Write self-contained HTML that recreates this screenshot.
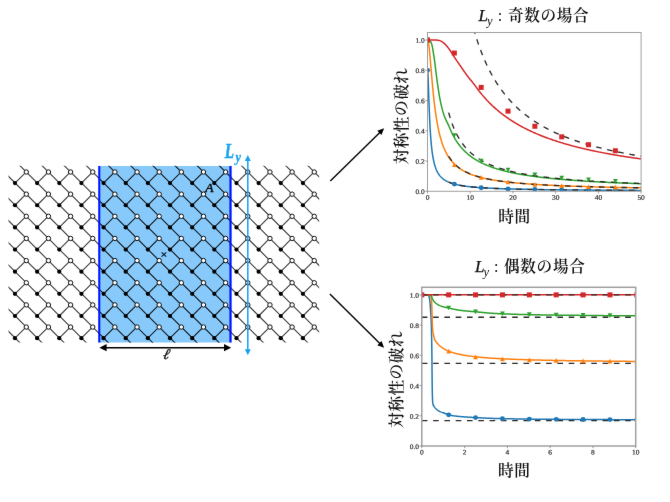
<!DOCTYPE html>
<html lang="ja">
<head>
<meta charset="utf-8">
<title>Ly : 奇数の場合 / 偶数の場合</title>
<style>
html,body{margin:0;padding:0;background:#fff;}
body{width:670px;height:502px;overflow:hidden;}
svg{display:block;}
</style>
</head>
<body>
<svg width="670" height="502" viewBox="0 0 670 502">
<defs><filter id="soft" x="0" y="0" width="670" height="502" filterUnits="userSpaceOnUse" color-interpolation-filters="sRGB"><feConvolveMatrix order="3" kernelMatrix="0.0028 0.0470 0.0028 0.0470 0.8008 0.0470 0.0028 0.0470 0.0028" divisor="1" edgeMode="duplicate" preserveAlpha="false"/></filter></defs>
<g filter="url(#soft)">
<rect width="670" height="502" fill="#fff"/>
<rect x="98.2" y="166.0" width="133.40" height="176.50" fill="#86c9fa"/>
<clipPath id="lc"><rect x="8.5" y="165.7" width="310.7" height="176.90000000000003"/></clipPath>
<clipPath id="lb"><rect x="98.2" y="166.0" width="133.40" height="176.50"/></clipPath>
<g clip-path="url(#lc)"><path d="M0 -208.70L340 131.30M0 -186.55L340 153.45M0 -164.40L340 175.60M0 -142.25L340 197.75M0 -120.10L340 219.90M0 -97.95L340 242.05M0 -75.80L340 264.20M0 -53.65L340 286.35M0 -31.50L340 308.50M0 -9.35L340 330.65M0 12.80L340 352.80M0 34.95L340 374.95M0 57.10L340 397.10M0 79.25L340 419.25M0 101.40L340 441.40M0 123.55L340 463.55M0 145.70L340 485.70M0 167.85L340 507.85M0 190.00L340 530.00M0 212.15L340 552.15M0 234.30L340 574.30M0 256.45L340 596.45M0 278.60L340 618.60M0 300.75L340 640.75M0 322.90L340 662.90M0 345.05L340 685.05M0 367.20L340 707.20M14.95 183.10l11.07 -11.07M14.95 205.25l11.07 -11.07M14.95 227.40l11.07 -11.07M14.95 249.55l11.07 -11.07M14.95 271.70l11.07 -11.07M14.95 293.85l11.07 -11.07M14.95 316.00l11.07 -11.07M14.95 338.15l11.07 -11.07M37.10 183.10l11.07 -11.07M37.10 205.25l11.07 -11.07M37.10 227.40l11.07 -11.07M37.10 249.55l11.07 -11.07M37.10 271.70l11.07 -11.07M37.10 293.85l11.07 -11.07M37.10 316.00l11.07 -11.07M37.10 338.15l11.07 -11.07M59.25 183.10l11.07 -11.07M59.25 205.25l11.07 -11.07M59.25 227.40l11.07 -11.07M59.25 249.55l11.07 -11.07M59.25 271.70l11.07 -11.07M59.25 293.85l11.07 -11.07M59.25 316.00l11.07 -11.07M59.25 338.15l11.07 -11.07M81.40 183.10l11.07 -11.07M81.40 205.25l11.07 -11.07M81.40 227.40l11.07 -11.07M81.40 249.55l11.07 -11.07M81.40 271.70l11.07 -11.07M81.40 293.85l11.07 -11.07M81.40 316.00l11.07 -11.07M81.40 338.15l11.07 -11.07M103.55 183.10l11.07 -11.07M103.55 205.25l11.07 -11.07M103.55 227.40l11.07 -11.07M103.55 249.55l11.07 -11.07M103.55 271.70l11.07 -11.07M103.55 293.85l11.07 -11.07M103.55 316.00l11.07 -11.07M103.55 338.15l11.07 -11.07M125.70 183.10l11.07 -11.07M125.70 205.25l11.07 -11.07M125.70 227.40l11.07 -11.07M125.70 249.55l11.07 -11.07M125.70 271.70l11.07 -11.07M125.70 293.85l11.07 -11.07M125.70 316.00l11.07 -11.07M125.70 338.15l11.07 -11.07M147.85 183.10l11.07 -11.07M147.85 205.25l11.07 -11.07M147.85 227.40l11.07 -11.07M147.85 249.55l11.07 -11.07M147.85 271.70l11.07 -11.07M147.85 293.85l11.07 -11.07M147.85 316.00l11.07 -11.07M147.85 338.15l11.07 -11.07M170.00 183.10l11.07 -11.07M170.00 205.25l11.07 -11.07M170.00 227.40l11.07 -11.07M170.00 249.55l11.07 -11.07M170.00 271.70l11.07 -11.07M170.00 293.85l11.07 -11.07M170.00 316.00l11.07 -11.07M170.00 338.15l11.07 -11.07M192.15 183.10l11.07 -11.07M192.15 205.25l11.07 -11.07M192.15 227.40l11.07 -11.07M192.15 249.55l11.07 -11.07M192.15 271.70l11.07 -11.07M192.15 293.85l11.07 -11.07M192.15 316.00l11.07 -11.07M192.15 338.15l11.07 -11.07M214.30 183.10l11.07 -11.07M214.30 205.25l11.07 -11.07M214.30 227.40l11.07 -11.07M214.30 249.55l11.07 -11.07M214.30 271.70l11.07 -11.07M214.30 293.85l11.07 -11.07M214.30 316.00l11.07 -11.07M214.30 338.15l11.07 -11.07M236.45 183.10l11.07 -11.07M236.45 205.25l11.07 -11.07M236.45 227.40l11.07 -11.07M236.45 249.55l11.07 -11.07M236.45 271.70l11.07 -11.07M236.45 293.85l11.07 -11.07M236.45 316.00l11.07 -11.07M236.45 338.15l11.07 -11.07M258.60 183.10l11.07 -11.07M258.60 205.25l11.07 -11.07M258.60 227.40l11.07 -11.07M258.60 249.55l11.07 -11.07M258.60 271.70l11.07 -11.07M258.60 293.85l11.07 -11.07M258.60 316.00l11.07 -11.07M258.60 338.15l11.07 -11.07M280.75 183.10l11.07 -11.07M280.75 205.25l11.07 -11.07M280.75 227.40l11.07 -11.07M280.75 249.55l11.07 -11.07M280.75 271.70l11.07 -11.07M280.75 293.85l11.07 -11.07M280.75 316.00l11.07 -11.07M280.75 338.15l11.07 -11.07M302.90 183.10l11.07 -11.07M302.90 205.25l11.07 -11.07M302.90 227.40l11.07 -11.07M302.90 249.55l11.07 -11.07M302.90 271.70l11.07 -11.07M302.90 293.85l11.07 -11.07M302.90 316.00l11.07 -11.07M302.90 338.15l11.07 -11.07" fill="none" stroke="#3c3c3c" stroke-width="1.1"/></g>
<g clip-path="url(#lb)"><path d="M0 -208.70L340 131.30M0 -186.55L340 153.45M0 -164.40L340 175.60M0 -142.25L340 197.75M0 -120.10L340 219.90M0 -97.95L340 242.05M0 -75.80L340 264.20M0 -53.65L340 286.35M0 -31.50L340 308.50M0 -9.35L340 330.65M0 12.80L340 352.80M0 34.95L340 374.95M0 57.10L340 397.10M0 79.25L340 419.25M0 101.40L340 441.40M0 123.55L340 463.55M0 145.70L340 485.70M0 167.85L340 507.85M0 190.00L340 530.00M0 212.15L340 552.15M0 234.30L340 574.30M0 256.45L340 596.45M0 278.60L340 618.60M0 300.75L340 640.75M0 322.90L340 662.90M0 345.05L340 685.05M0 367.20L340 707.20M14.95 183.10l11.07 -11.07M14.95 205.25l11.07 -11.07M14.95 227.40l11.07 -11.07M14.95 249.55l11.07 -11.07M14.95 271.70l11.07 -11.07M14.95 293.85l11.07 -11.07M14.95 316.00l11.07 -11.07M14.95 338.15l11.07 -11.07M37.10 183.10l11.07 -11.07M37.10 205.25l11.07 -11.07M37.10 227.40l11.07 -11.07M37.10 249.55l11.07 -11.07M37.10 271.70l11.07 -11.07M37.10 293.85l11.07 -11.07M37.10 316.00l11.07 -11.07M37.10 338.15l11.07 -11.07M59.25 183.10l11.07 -11.07M59.25 205.25l11.07 -11.07M59.25 227.40l11.07 -11.07M59.25 249.55l11.07 -11.07M59.25 271.70l11.07 -11.07M59.25 293.85l11.07 -11.07M59.25 316.00l11.07 -11.07M59.25 338.15l11.07 -11.07M81.40 183.10l11.07 -11.07M81.40 205.25l11.07 -11.07M81.40 227.40l11.07 -11.07M81.40 249.55l11.07 -11.07M81.40 271.70l11.07 -11.07M81.40 293.85l11.07 -11.07M81.40 316.00l11.07 -11.07M81.40 338.15l11.07 -11.07M103.55 183.10l11.07 -11.07M103.55 205.25l11.07 -11.07M103.55 227.40l11.07 -11.07M103.55 249.55l11.07 -11.07M103.55 271.70l11.07 -11.07M103.55 293.85l11.07 -11.07M103.55 316.00l11.07 -11.07M103.55 338.15l11.07 -11.07M125.70 183.10l11.07 -11.07M125.70 205.25l11.07 -11.07M125.70 227.40l11.07 -11.07M125.70 249.55l11.07 -11.07M125.70 271.70l11.07 -11.07M125.70 293.85l11.07 -11.07M125.70 316.00l11.07 -11.07M125.70 338.15l11.07 -11.07M147.85 183.10l11.07 -11.07M147.85 205.25l11.07 -11.07M147.85 227.40l11.07 -11.07M147.85 249.55l11.07 -11.07M147.85 271.70l11.07 -11.07M147.85 293.85l11.07 -11.07M147.85 316.00l11.07 -11.07M147.85 338.15l11.07 -11.07M170.00 183.10l11.07 -11.07M170.00 205.25l11.07 -11.07M170.00 227.40l11.07 -11.07M170.00 249.55l11.07 -11.07M170.00 271.70l11.07 -11.07M170.00 293.85l11.07 -11.07M170.00 316.00l11.07 -11.07M170.00 338.15l11.07 -11.07M192.15 183.10l11.07 -11.07M192.15 205.25l11.07 -11.07M192.15 227.40l11.07 -11.07M192.15 249.55l11.07 -11.07M192.15 271.70l11.07 -11.07M192.15 293.85l11.07 -11.07M192.15 316.00l11.07 -11.07M192.15 338.15l11.07 -11.07M214.30 183.10l11.07 -11.07M214.30 205.25l11.07 -11.07M214.30 227.40l11.07 -11.07M214.30 249.55l11.07 -11.07M214.30 271.70l11.07 -11.07M214.30 293.85l11.07 -11.07M214.30 316.00l11.07 -11.07M214.30 338.15l11.07 -11.07M236.45 183.10l11.07 -11.07M236.45 205.25l11.07 -11.07M236.45 227.40l11.07 -11.07M236.45 249.55l11.07 -11.07M236.45 271.70l11.07 -11.07M236.45 293.85l11.07 -11.07M236.45 316.00l11.07 -11.07M236.45 338.15l11.07 -11.07M258.60 183.10l11.07 -11.07M258.60 205.25l11.07 -11.07M258.60 227.40l11.07 -11.07M258.60 249.55l11.07 -11.07M258.60 271.70l11.07 -11.07M258.60 293.85l11.07 -11.07M258.60 316.00l11.07 -11.07M258.60 338.15l11.07 -11.07M280.75 183.10l11.07 -11.07M280.75 205.25l11.07 -11.07M280.75 227.40l11.07 -11.07M280.75 249.55l11.07 -11.07M280.75 271.70l11.07 -11.07M280.75 293.85l11.07 -11.07M280.75 316.00l11.07 -11.07M280.75 338.15l11.07 -11.07M302.90 183.10l11.07 -11.07M302.90 205.25l11.07 -11.07M302.90 227.40l11.07 -11.07M302.90 249.55l11.07 -11.07M302.90 271.70l11.07 -11.07M302.90 293.85l11.07 -11.07M302.90 316.00l11.07 -11.07M302.90 338.15l11.07 -11.07" fill="none" stroke="#0a1e30" stroke-width="0.98"/></g>
<g fill="#000"><circle cx="14.95" cy="183.10" r="2.1"/><circle cx="14.95" cy="205.25" r="2.1"/><circle cx="14.95" cy="227.40" r="2.1"/><circle cx="14.95" cy="249.55" r="2.1"/><circle cx="14.95" cy="271.70" r="2.1"/><circle cx="14.95" cy="293.85" r="2.1"/><circle cx="14.95" cy="316.00" r="2.1"/><circle cx="14.95" cy="338.15" r="2.1"/><circle cx="37.10" cy="183.10" r="2.1"/><circle cx="37.10" cy="205.25" r="2.1"/><circle cx="37.10" cy="227.40" r="2.1"/><circle cx="37.10" cy="249.55" r="2.1"/><circle cx="37.10" cy="271.70" r="2.1"/><circle cx="37.10" cy="293.85" r="2.1"/><circle cx="37.10" cy="316.00" r="2.1"/><circle cx="37.10" cy="338.15" r="2.1"/><circle cx="59.25" cy="183.10" r="2.1"/><circle cx="59.25" cy="205.25" r="2.1"/><circle cx="59.25" cy="227.40" r="2.1"/><circle cx="59.25" cy="249.55" r="2.1"/><circle cx="59.25" cy="271.70" r="2.1"/><circle cx="59.25" cy="293.85" r="2.1"/><circle cx="59.25" cy="316.00" r="2.1"/><circle cx="59.25" cy="338.15" r="2.1"/><circle cx="81.40" cy="183.10" r="2.1"/><circle cx="81.40" cy="205.25" r="2.1"/><circle cx="81.40" cy="227.40" r="2.1"/><circle cx="81.40" cy="249.55" r="2.1"/><circle cx="81.40" cy="271.70" r="2.1"/><circle cx="81.40" cy="293.85" r="2.1"/><circle cx="81.40" cy="316.00" r="2.1"/><circle cx="81.40" cy="338.15" r="2.1"/><circle cx="103.55" cy="183.10" r="2.1"/><circle cx="103.55" cy="205.25" r="2.1"/><circle cx="103.55" cy="227.40" r="2.1"/><circle cx="103.55" cy="249.55" r="2.1"/><circle cx="103.55" cy="271.70" r="2.1"/><circle cx="103.55" cy="293.85" r="2.1"/><circle cx="103.55" cy="316.00" r="2.1"/><circle cx="103.55" cy="338.15" r="2.1"/><circle cx="125.70" cy="183.10" r="2.1"/><circle cx="125.70" cy="205.25" r="2.1"/><circle cx="125.70" cy="227.40" r="2.1"/><circle cx="125.70" cy="249.55" r="2.1"/><circle cx="125.70" cy="271.70" r="2.1"/><circle cx="125.70" cy="293.85" r="2.1"/><circle cx="125.70" cy="316.00" r="2.1"/><circle cx="125.70" cy="338.15" r="2.1"/><circle cx="147.85" cy="183.10" r="2.1"/><circle cx="147.85" cy="205.25" r="2.1"/><circle cx="147.85" cy="227.40" r="2.1"/><circle cx="147.85" cy="249.55" r="2.1"/><circle cx="147.85" cy="271.70" r="2.1"/><circle cx="147.85" cy="293.85" r="2.1"/><circle cx="147.85" cy="316.00" r="2.1"/><circle cx="147.85" cy="338.15" r="2.1"/><circle cx="170.00" cy="183.10" r="2.1"/><circle cx="170.00" cy="205.25" r="2.1"/><circle cx="170.00" cy="227.40" r="2.1"/><circle cx="170.00" cy="249.55" r="2.1"/><circle cx="170.00" cy="271.70" r="2.1"/><circle cx="170.00" cy="293.85" r="2.1"/><circle cx="170.00" cy="316.00" r="2.1"/><circle cx="170.00" cy="338.15" r="2.1"/><circle cx="192.15" cy="183.10" r="2.1"/><circle cx="192.15" cy="205.25" r="2.1"/><circle cx="192.15" cy="227.40" r="2.1"/><circle cx="192.15" cy="249.55" r="2.1"/><circle cx="192.15" cy="271.70" r="2.1"/><circle cx="192.15" cy="293.85" r="2.1"/><circle cx="192.15" cy="316.00" r="2.1"/><circle cx="192.15" cy="338.15" r="2.1"/><circle cx="214.30" cy="183.10" r="2.1"/><circle cx="214.30" cy="205.25" r="2.1"/><circle cx="214.30" cy="227.40" r="2.1"/><circle cx="214.30" cy="249.55" r="2.1"/><circle cx="214.30" cy="271.70" r="2.1"/><circle cx="214.30" cy="293.85" r="2.1"/><circle cx="214.30" cy="316.00" r="2.1"/><circle cx="214.30" cy="338.15" r="2.1"/><circle cx="236.45" cy="183.10" r="2.1"/><circle cx="236.45" cy="205.25" r="2.1"/><circle cx="236.45" cy="227.40" r="2.1"/><circle cx="236.45" cy="249.55" r="2.1"/><circle cx="236.45" cy="271.70" r="2.1"/><circle cx="236.45" cy="293.85" r="2.1"/><circle cx="236.45" cy="316.00" r="2.1"/><circle cx="236.45" cy="338.15" r="2.1"/><circle cx="258.60" cy="183.10" r="2.1"/><circle cx="258.60" cy="205.25" r="2.1"/><circle cx="258.60" cy="227.40" r="2.1"/><circle cx="258.60" cy="249.55" r="2.1"/><circle cx="258.60" cy="271.70" r="2.1"/><circle cx="258.60" cy="293.85" r="2.1"/><circle cx="258.60" cy="316.00" r="2.1"/><circle cx="258.60" cy="338.15" r="2.1"/><circle cx="280.75" cy="183.10" r="2.1"/><circle cx="280.75" cy="205.25" r="2.1"/><circle cx="280.75" cy="227.40" r="2.1"/><circle cx="280.75" cy="249.55" r="2.1"/><circle cx="280.75" cy="271.70" r="2.1"/><circle cx="280.75" cy="293.85" r="2.1"/><circle cx="280.75" cy="316.00" r="2.1"/><circle cx="280.75" cy="338.15" r="2.1"/><circle cx="302.90" cy="183.10" r="2.1"/><circle cx="302.90" cy="205.25" r="2.1"/><circle cx="302.90" cy="227.40" r="2.1"/><circle cx="302.90" cy="249.55" r="2.1"/><circle cx="302.90" cy="271.70" r="2.1"/><circle cx="302.90" cy="293.85" r="2.1"/><circle cx="302.90" cy="316.00" r="2.1"/><circle cx="302.90" cy="338.15" r="2.1"/></g>
<g fill="#fff" stroke="#111" stroke-width="1"><circle cx="26.30" cy="172.00" r="2.2"/><circle cx="26.30" cy="194.15" r="2.2"/><circle cx="26.30" cy="216.30" r="2.2"/><circle cx="26.30" cy="238.45" r="2.2"/><circle cx="26.30" cy="260.60" r="2.2"/><circle cx="26.30" cy="282.75" r="2.2"/><circle cx="26.30" cy="304.90" r="2.2"/><circle cx="26.30" cy="327.05" r="2.2"/><circle cx="48.45" cy="172.00" r="2.2"/><circle cx="48.45" cy="194.15" r="2.2"/><circle cx="48.45" cy="216.30" r="2.2"/><circle cx="48.45" cy="238.45" r="2.2"/><circle cx="48.45" cy="260.60" r="2.2"/><circle cx="48.45" cy="282.75" r="2.2"/><circle cx="48.45" cy="304.90" r="2.2"/><circle cx="48.45" cy="327.05" r="2.2"/><circle cx="70.60" cy="172.00" r="2.2"/><circle cx="70.60" cy="194.15" r="2.2"/><circle cx="70.60" cy="216.30" r="2.2"/><circle cx="70.60" cy="238.45" r="2.2"/><circle cx="70.60" cy="260.60" r="2.2"/><circle cx="70.60" cy="282.75" r="2.2"/><circle cx="70.60" cy="304.90" r="2.2"/><circle cx="70.60" cy="327.05" r="2.2"/><circle cx="92.75" cy="172.00" r="2.2"/><circle cx="92.75" cy="194.15" r="2.2"/><circle cx="92.75" cy="216.30" r="2.2"/><circle cx="92.75" cy="238.45" r="2.2"/><circle cx="92.75" cy="260.60" r="2.2"/><circle cx="92.75" cy="282.75" r="2.2"/><circle cx="92.75" cy="304.90" r="2.2"/><circle cx="92.75" cy="327.05" r="2.2"/><circle cx="114.90" cy="172.00" r="2.2"/><circle cx="114.90" cy="194.15" r="2.2"/><circle cx="114.90" cy="216.30" r="2.2"/><circle cx="114.90" cy="238.45" r="2.2"/><circle cx="114.90" cy="260.60" r="2.2"/><circle cx="114.90" cy="282.75" r="2.2"/><circle cx="114.90" cy="304.90" r="2.2"/><circle cx="114.90" cy="327.05" r="2.2"/><circle cx="137.05" cy="172.00" r="2.2"/><circle cx="137.05" cy="194.15" r="2.2"/><circle cx="137.05" cy="216.30" r="2.2"/><circle cx="137.05" cy="238.45" r="2.2"/><circle cx="137.05" cy="260.60" r="2.2"/><circle cx="137.05" cy="282.75" r="2.2"/><circle cx="137.05" cy="304.90" r="2.2"/><circle cx="137.05" cy="327.05" r="2.2"/><circle cx="159.20" cy="172.00" r="2.2"/><circle cx="159.20" cy="194.15" r="2.2"/><circle cx="159.20" cy="216.30" r="2.2"/><circle cx="159.20" cy="238.45" r="2.2"/><circle cx="159.20" cy="260.60" r="2.2"/><circle cx="159.20" cy="282.75" r="2.2"/><circle cx="159.20" cy="304.90" r="2.2"/><circle cx="159.20" cy="327.05" r="2.2"/><circle cx="181.35" cy="172.00" r="2.2"/><circle cx="181.35" cy="194.15" r="2.2"/><circle cx="181.35" cy="216.30" r="2.2"/><circle cx="181.35" cy="238.45" r="2.2"/><circle cx="181.35" cy="260.60" r="2.2"/><circle cx="181.35" cy="282.75" r="2.2"/><circle cx="181.35" cy="304.90" r="2.2"/><circle cx="181.35" cy="327.05" r="2.2"/><circle cx="203.50" cy="172.00" r="2.2"/><circle cx="203.50" cy="194.15" r="2.2"/><circle cx="203.50" cy="216.30" r="2.2"/><circle cx="203.50" cy="238.45" r="2.2"/><circle cx="203.50" cy="260.60" r="2.2"/><circle cx="203.50" cy="282.75" r="2.2"/><circle cx="203.50" cy="304.90" r="2.2"/><circle cx="203.50" cy="327.05" r="2.2"/><circle cx="225.65" cy="172.00" r="2.2"/><circle cx="225.65" cy="194.15" r="2.2"/><circle cx="225.65" cy="216.30" r="2.2"/><circle cx="225.65" cy="238.45" r="2.2"/><circle cx="225.65" cy="260.60" r="2.2"/><circle cx="225.65" cy="282.75" r="2.2"/><circle cx="225.65" cy="304.90" r="2.2"/><circle cx="225.65" cy="327.05" r="2.2"/><circle cx="247.80" cy="172.00" r="2.2"/><circle cx="247.80" cy="194.15" r="2.2"/><circle cx="247.80" cy="216.30" r="2.2"/><circle cx="247.80" cy="238.45" r="2.2"/><circle cx="247.80" cy="260.60" r="2.2"/><circle cx="247.80" cy="282.75" r="2.2"/><circle cx="247.80" cy="304.90" r="2.2"/><circle cx="247.80" cy="327.05" r="2.2"/><circle cx="269.95" cy="172.00" r="2.2"/><circle cx="269.95" cy="194.15" r="2.2"/><circle cx="269.95" cy="216.30" r="2.2"/><circle cx="269.95" cy="238.45" r="2.2"/><circle cx="269.95" cy="260.60" r="2.2"/><circle cx="269.95" cy="282.75" r="2.2"/><circle cx="269.95" cy="304.90" r="2.2"/><circle cx="269.95" cy="327.05" r="2.2"/><circle cx="292.10" cy="172.00" r="2.2"/><circle cx="292.10" cy="194.15" r="2.2"/><circle cx="292.10" cy="216.30" r="2.2"/><circle cx="292.10" cy="238.45" r="2.2"/><circle cx="292.10" cy="260.60" r="2.2"/><circle cx="292.10" cy="282.75" r="2.2"/><circle cx="292.10" cy="304.90" r="2.2"/><circle cx="292.10" cy="327.05" r="2.2"/><circle cx="314.25" cy="172.00" r="2.2"/><circle cx="314.25" cy="194.15" r="2.2"/><circle cx="314.25" cy="216.30" r="2.2"/><circle cx="314.25" cy="238.45" r="2.2"/><circle cx="314.25" cy="260.60" r="2.2"/><circle cx="314.25" cy="282.75" r="2.2"/><circle cx="314.25" cy="304.90" r="2.2"/><circle cx="314.25" cy="327.05" r="2.2"/></g>
<rect x="98.3" y="166.0" width="2.0" height="176.50" fill="#0414ff"/>
<rect x="229.4" y="166.0" width="2.15" height="176.50" fill="#0414ff"/>
<path d="M247.8 160V350" stroke="#1aa3f0" stroke-width="1.55" fill="none"/>
<path d="M247.8 155.0l3.0 6.1h-6.0zM247.8 355.3l3.0 -6.1h-6.0z" fill="#1aa3f0"/>
<g font-family='"Liberation Serif", "Noto Serif CJK JP", "Noto Serif CJK SC", serif' font-style="italic" font-weight="bold" fill="#1aa3f0" stroke="#1aa3f0" stroke-width="0.5" stroke-linejoin="round"><text transform="translate(224.8 158.0) scale(0.74 1)" font-size="20.6">L</text><text transform="translate(235.4 162.3) scale(0.85 1)" font-size="14.5" stroke-width="0.3">y</text></g>
<path d="M104 347.7H226" stroke="#000" stroke-width="1.5" fill="none"/>
<path d="M99.4 347.7l7.2 -3.6v7.2zM231.2 347.7l-7.2 -3.6v7.2z" fill="#000"/>
<text transform="translate(162.2 359.3) skewX(-14)" font-family='"Liberation Serif", "Noto Serif CJK JP", "Noto Serif CJK SC", serif' font-size="15" font-style="italic" fill="#111" stroke="#111" stroke-width="0.3">ℓ</text>
<text x="205.3" y="191.8" font-family='"Liberation Serif", "Noto Serif CJK JP", "Noto Serif CJK SC", serif' font-size="13.5" font-style="italic" fill="#0a0a0a" stroke="#0a0a0a" stroke-width="0.5">A</text>
<path d="M161.6 252.3l4.6 4.4M166.2 252.3l-4.6 4.4" stroke="#061426" stroke-width="1.05" fill="none"/>
<path d="M330.30 181.10L380.10 132.22" stroke="#000" stroke-width="1.38" fill="none"/>
<path d="M384.10 128.30L381.49 135.06L377.29 130.78z" fill="#000"/>
<path d="M329.90 293.90L380.13 343.75" stroke="#000" stroke-width="1.38" fill="none"/>
<path d="M384.10 347.70L377.30 345.18L381.53 340.92z" fill="#000"/>
<clipPath id="pc1"><rect x="427.5" y="32.5" width="213.60" height="158.80"/></clipPath>
<g clip-path="url(#pc1)">
<path d="M427.50 70.31L427.67 71.00L427.76 71.84L427.84 72.99L427.93 74.42L428.01 76.10L428.10 78.00L428.19 80.07L428.27 82.29L428.36 84.62L428.44 87.03L428.53 89.49L428.61 91.98L428.70 94.47L428.79 96.95L428.87 99.39L428.96 101.80L429.04 104.16L429.13 106.46L429.21 108.70L429.30 110.87L429.39 112.97L429.47 115.00L429.56 116.97L429.64 118.86L429.73 120.69L429.81 122.44L429.90 124.13L429.99 125.76L430.07 127.33L430.16 128.84L430.24 130.29L430.33 131.68L430.41 133.02L430.50 134.31L430.59 135.56L430.67 136.75L430.76 137.91L430.84 139.02L430.93 140.09L431.01 141.12L431.10 142.12L431.19 143.08L431.27 144.00L431.36 144.90L431.44 145.76L431.53 146.60L431.61 147.40L431.70 148.19L431.79 148.94L431.87 149.67L431.96 150.38L432.04 151.07L432.13 151.73L432.21 152.38L432.30 153.00L432.39 153.61L432.56 154.77L432.73 155.86L432.90 156.89L433.07 157.87L433.24 158.79L433.42 159.67L433.59 160.50L433.76 161.29L433.93 162.05L434.10 162.76L434.27 163.45L434.44 164.10L434.62 164.72L434.79 165.32L435.04 166.17L435.30 166.96L435.56 167.71L435.82 168.41L436.07 169.07L436.33 169.70L436.59 170.29L436.84 170.86L437.19 171.56L437.53 172.22L437.87 172.83L438.22 173.41L438.56 173.95L438.90 174.47L439.33 175.06L439.76 175.62L440.19 176.14L440.62 176.63L441.04 177.09L441.47 177.52L441.99 178.00L442.50 178.45L443.02 178.87L443.53 179.27L444.05 179.64L444.56 179.99L445.07 180.32L445.59 180.63L446.19 180.97L446.79 181.29L447.39 181.59L447.99 181.87L448.59 182.14L449.19 182.39L449.79 182.63L450.39 182.85L450.99 183.07L451.59 183.27L452.19 183.47L452.79 183.65L453.76 183.93L454.39 184.10L455.02 184.27L455.65 184.42L456.28 184.57L456.90 184.72L457.53 184.86L458.16 184.99L458.79 185.11L459.42 185.24L460.05 185.35L460.68 185.46L461.30 185.57L461.93 185.68L462.56 185.78L463.19 185.87L463.82 185.97L464.45 186.06L465.08 186.15L465.71 186.23L466.33 186.31L466.96 186.39L467.59 186.47L468.22 186.54L468.85 186.62L469.48 186.69L470.11 186.75L470.73 186.82L471.36 186.88L471.99 186.95L472.62 187.01L473.25 187.07L473.88 187.12L474.51 187.18L475.13 187.23L475.76 187.29L476.39 187.34L477.02 187.39L477.65 187.44L478.28 187.48L478.91 187.53L479.54 187.58L480.16 187.62L480.79 187.66L481.42 187.71L482.05 187.75L482.68 187.79L483.31 187.83L483.94 187.87L484.56 187.90L485.19 187.94L485.82 187.98L486.45 188.01L487.08 188.05L487.71 188.08L488.34 188.12L488.97 188.15L489.59 188.18L490.22 188.21L490.85 188.24L491.48 188.27L492.11 188.30L492.74 188.33L493.37 188.36L493.99 188.39L494.62 188.41L495.25 188.44L495.88 188.47L496.51 188.49L497.14 188.52L497.77 188.54L498.40 188.57L499.02 188.59L499.65 188.61L500.28 188.64L500.91 188.66L501.54 188.68L502.17 188.70L502.80 188.73L503.42 188.75L504.05 188.77L504.68 188.79L505.31 188.81L505.94 188.83L506.57 188.85L507.20 188.87L507.83 188.89L508.45 188.91L509.08 188.92L509.71 188.94L510.34 188.96L510.97 188.98L511.60 189.00L512.23 189.01L512.85 189.03L513.48 189.05L514.11 189.06L514.74 189.08L515.37 189.09L516.00 189.11L516.63 189.13L517.25 189.14L517.88 189.16L518.51 189.17L519.14 189.19L519.77 189.20L520.40 189.21L521.03 189.23L521.66 189.24L522.28 189.26L522.91 189.27L523.54 189.28L524.17 189.30L524.80 189.31L525.43 189.32L526.06 189.33L526.68 189.35L527.31 189.36L527.94 189.37L528.57 189.38L529.20 189.39L529.83 189.41L530.46 189.42L531.09 189.43L531.71 189.44L532.34 189.45L532.97 189.46L533.60 189.47L534.23 189.48L534.86 189.49L535.49 189.51L536.11 189.52L536.74 189.53L537.37 189.54L538.00 189.55L538.63 189.56L539.26 189.57L539.89 189.58L540.52 189.59L541.14 189.59L541.77 189.60L542.40 189.61L543.03 189.62L543.66 189.63L544.29 189.64L544.92 189.65L545.54 189.66L546.17 189.67L546.80 189.68L547.43 189.68L548.06 189.69L548.69 189.70L549.32 189.71L549.94 189.72L550.57 189.73L551.20 189.73L551.83 189.74L552.46 189.75L553.09 189.76L553.72 189.76L554.35 189.77L554.97 189.78L555.60 189.79L556.23 189.79L556.86 189.80L557.49 189.81L558.12 189.82L558.75 189.82L559.37 189.83L560.00 189.84L560.63 189.84L561.26 189.85L561.89 189.86L562.52 189.86L563.15 189.87L563.78 189.88L564.40 189.88L565.03 189.89L565.66 189.90L566.29 189.90L566.92 189.91L567.55 189.92L568.18 189.92L568.80 189.93L569.43 189.93L570.06 189.94L570.69 189.95L571.32 189.95L571.95 189.96L572.58 189.96L573.21 189.97L573.83 189.98L574.46 189.98L575.09 189.99L575.72 189.99L576.35 190.00L576.98 190.00L577.61 190.01L578.23 190.01L578.86 190.02L579.49 190.02L580.12 190.03L580.75 190.04L581.38 190.04L582.01 190.05L582.64 190.05L583.26 190.06L583.89 190.06L584.52 190.07L585.15 190.07L585.78 190.08L586.41 190.08L587.04 190.09L587.66 190.09L588.29 190.09L588.92 190.10L589.55 190.10L590.18 190.11L590.81 190.11L591.44 190.12L592.06 190.12L592.69 190.13L593.32 190.13L593.95 190.14L594.58 190.14L595.21 190.14L595.84 190.15L596.47 190.15L597.09 190.16L597.72 190.16L598.35 190.17L598.98 190.17L599.61 190.17L600.24 190.18L600.87 190.18L601.49 190.19L602.12 190.19L602.75 190.19L603.38 190.20L604.01 190.20L604.64 190.21L605.27 190.21L605.90 190.21L606.52 190.22L607.15 190.22L607.78 190.22L608.41 190.23L609.04 190.23L609.67 190.24L610.30 190.24L610.92 190.24L611.55 190.25L612.18 190.25L612.81 190.25L613.44 190.26L614.07 190.26L614.70 190.26L615.33 190.27L615.95 190.27L616.58 190.27L617.21 190.28L617.84 190.28L618.47 190.29L619.10 190.29L619.73 190.29L620.35 190.29L620.98 190.30L621.61 190.30L622.24 190.30L622.87 190.31L623.50 190.31L624.13 190.31L624.75 190.32L625.38 190.32L626.01 190.32L626.64 190.33L627.27 190.33L627.90 190.33L628.53 190.34L629.16 190.34L629.78 190.34L630.41 190.34L631.04 190.35L631.67 190.35L632.30 190.35L632.93 190.36L633.56 190.36L634.18 190.36L634.81 190.37L635.44 190.37L636.07 190.37L636.70 190.37L637.33 190.38L637.96 190.38L638.59 190.38L639.21 190.38L639.84 190.39L640.47 190.39L641.10 190.39" fill="none" stroke="#1f77b4" stroke-width="1.5" stroke-linejoin="round"/>
<path d="M427.50 40.06L427.93 40.63L428.19 41.51L428.36 42.31L428.53 43.27L428.70 44.38L428.79 44.99L428.87 45.63L428.96 46.31L429.04 47.01L429.13 47.75L429.21 48.51L429.30 49.30L429.39 50.11L429.47 50.94L429.56 51.80L429.64 52.68L429.73 53.57L429.81 54.49L429.90 55.41L429.99 56.36L430.07 57.31L430.16 58.28L430.24 59.25L430.33 60.24L430.41 61.23L430.50 62.23L430.59 63.23L430.67 64.24L430.76 65.25L430.84 66.27L430.93 67.28L431.01 68.30L431.10 69.31L431.19 70.33L431.27 71.34L431.36 72.35L431.44 73.36L431.53 74.36L431.61 75.36L431.70 76.35L431.79 77.34L431.87 78.32L431.96 79.30L432.04 80.27L432.13 81.23L432.21 82.18L432.30 83.13L432.39 84.07L432.47 85.00L432.56 85.93L432.64 86.84L432.73 87.75L432.81 88.64L432.90 89.53L432.99 90.41L433.07 91.28L433.16 92.14L433.24 92.99L433.33 93.84L433.42 94.67L433.50 95.49L433.59 96.31L433.67 97.11L433.76 97.91L433.84 98.70L433.93 99.48L434.02 100.24L434.10 101.00L434.19 101.75L434.27 102.49L434.36 103.23L434.44 103.95L434.53 104.66L434.62 105.37L434.70 106.07L434.79 106.75L434.87 107.43L434.96 108.10L435.04 108.77L435.13 109.42L435.22 110.07L435.30 110.71L435.39 111.34L435.47 111.96L435.56 112.57L435.64 113.18L435.73 113.78L435.90 114.95L436.07 116.10L436.24 117.22L436.42 118.31L436.59 119.37L436.76 120.41L436.93 121.42L437.10 122.41L437.27 123.37L437.44 124.31L437.62 125.23L437.79 126.12L437.96 127.00L438.13 127.85L438.30 128.68L438.47 129.50L438.64 130.29L438.82 131.07L438.99 131.83L439.16 132.57L439.33 133.30L439.50 134.01L439.67 134.70L439.84 135.38L440.02 136.04L440.19 136.69L440.36 137.32L440.53 137.95L440.70 138.55L440.87 139.15L441.04 139.73L441.30 140.58L441.56 141.41L441.82 142.21L442.07 142.99L442.33 143.74L442.59 144.47L442.84 145.19L443.10 145.88L443.36 146.55L443.62 147.20L443.87 147.84L444.13 148.45L444.39 149.06L444.65 149.64L444.90 150.21L445.16 150.77L445.50 151.48L445.85 152.18L446.19 152.85L446.53 153.50L446.87 154.13L447.22 154.73L447.56 155.32L447.90 155.90L448.25 156.45L448.59 156.99L448.93 157.51L449.27 158.01L449.70 158.63L450.13 159.22L450.56 159.79L450.99 160.34L451.42 160.87L451.85 161.38L452.27 161.88L452.70 162.36L453.13 162.83L453.76 163.49L454.39 164.12L455.02 164.72L455.65 165.30L456.28 165.85L456.90 166.38L457.53 166.88L458.16 167.37L458.79 167.84L459.42 168.29L460.05 168.73L460.68 169.15L461.30 169.55L461.93 169.94L462.56 170.31L463.19 170.68L463.82 171.03L464.45 171.37L465.08 171.69L465.71 172.01L466.33 172.32L466.96 172.62L467.59 172.90L468.22 173.18L468.85 173.46L469.48 173.72L470.11 173.98L470.73 174.22L471.36 174.47L471.99 174.70L472.62 174.93L473.25 175.15L473.88 175.37L474.51 175.58L475.13 175.78L475.76 175.98L476.39 176.18L477.02 176.37L477.65 176.55L478.28 176.74L478.91 176.91L479.54 177.08L480.16 177.25L480.79 177.42L481.42 177.58L482.05 177.73L482.68 177.89L483.31 178.04L483.94 178.18L484.56 178.33L485.19 178.47L485.82 178.61L486.45 178.74L487.08 178.87L487.71 179.00L488.34 179.13L488.97 179.25L489.59 179.37L490.22 179.49L490.85 179.61L491.48 179.72L492.11 179.83L492.74 179.94L493.37 180.05L493.99 180.16L494.62 180.26L495.25 180.36L495.88 180.46L496.51 180.56L497.14 180.66L497.77 180.75L498.40 180.84L499.02 180.94L499.65 181.03L500.28 181.11L500.91 181.20L501.54 181.29L502.17 181.37L502.80 181.45L503.42 181.53L504.05 181.61L504.68 181.69L505.31 181.77L505.94 181.85L506.57 181.92L507.20 181.99L507.83 182.07L508.45 182.14L509.08 182.21L509.71 182.28L510.34 182.35L510.97 182.41L511.60 182.48L512.23 182.55L512.85 182.61L513.48 182.67L514.11 182.74L514.74 182.80L515.37 182.86L516.00 182.92L516.63 182.98L517.25 183.03L517.88 183.09L518.51 183.15L519.14 183.20L519.77 183.26L520.40 183.31L521.03 183.37L521.66 183.42L522.28 183.47L522.91 183.52L523.54 183.57L524.17 183.62L524.80 183.67L525.43 183.72L526.06 183.77L526.68 183.82L527.31 183.87L527.94 183.91L528.57 183.96L529.20 184.00L529.83 184.05L530.46 184.09L531.09 184.14L531.71 184.18L532.34 184.22L532.97 184.26L533.60 184.30L534.23 184.35L534.86 184.39L535.49 184.43L536.11 184.47L536.74 184.51L537.37 184.54L538.00 184.58L538.63 184.62L539.26 184.66L539.89 184.70L540.52 184.73L541.14 184.77L541.77 184.80L542.40 184.84L543.03 184.87L543.66 184.91L544.29 184.94L544.92 184.98L545.54 185.01L546.17 185.04L546.80 185.08L547.43 185.11L548.06 185.14L548.69 185.17L549.32 185.21L549.94 185.24L550.57 185.27L551.20 185.30L551.83 185.33L552.46 185.36L553.09 185.39L553.72 185.42L554.35 185.45L554.97 185.48L555.60 185.50L556.23 185.53L556.86 185.56L557.49 185.59L558.12 185.62L558.75 185.64L559.37 185.67L560.00 185.70L560.63 185.72L561.26 185.75L561.89 185.77L562.52 185.80L563.15 185.83L563.78 185.85L564.40 185.88L565.03 185.90L565.66 185.93L566.29 185.95L566.92 185.97L567.55 186.00L568.18 186.02L568.80 186.05L569.43 186.07L570.06 186.09L570.69 186.11L571.32 186.14L571.95 186.16L572.58 186.18L573.21 186.20L573.83 186.23L574.46 186.25L575.09 186.27L575.72 186.29L576.35 186.31L576.98 186.33L577.61 186.35L578.23 186.37L578.86 186.39L579.49 186.41L580.12 186.43L580.75 186.45L581.38 186.47L582.01 186.49L582.64 186.51L583.26 186.53L583.89 186.55L584.52 186.57L585.15 186.59L585.78 186.61L586.41 186.63L587.04 186.64L587.66 186.66L588.29 186.68L588.92 186.70L589.55 186.72L590.18 186.73L590.81 186.75L591.44 186.77L592.06 186.79L592.69 186.80L593.32 186.82L593.95 186.84L594.58 186.85L595.21 186.87L595.84 186.89L596.47 186.90L597.09 186.92L597.72 186.94L598.35 186.95L598.98 186.97L599.61 186.98L600.24 187.00L600.87 187.02L601.49 187.03L602.12 187.05L602.75 187.06L603.38 187.08L604.01 187.09L604.64 187.11L605.27 187.12L605.90 187.14L606.52 187.15L607.15 187.17L607.78 187.18L608.41 187.19L609.04 187.21L609.67 187.22L610.30 187.24L610.92 187.25L611.55 187.26L612.18 187.28L612.81 187.29L613.44 187.31L614.07 187.32L614.70 187.33L615.33 187.35L615.95 187.36L616.58 187.37L617.21 187.38L617.84 187.40L618.47 187.41L619.10 187.42L619.73 187.44L620.35 187.45L620.98 187.46L621.61 187.47L622.24 187.49L622.87 187.50L623.50 187.51L624.13 187.52L624.75 187.53L625.38 187.55L626.01 187.56L626.64 187.57L627.27 187.58L627.90 187.59L628.53 187.61L629.16 187.62L629.78 187.63L630.41 187.64L631.04 187.65L631.67 187.66L632.30 187.67L632.93 187.68L633.56 187.70L634.18 187.71L634.81 187.72L635.44 187.73L636.07 187.74L636.70 187.75L637.33 187.76L637.96 187.77L638.59 187.78L639.21 187.79L639.84 187.80L640.47 187.81L641.10 187.82" fill="none" stroke="#ff7f0e" stroke-width="1.5" stroke-linejoin="round"/>
<path d="M427.50 40.09L428.14 40.17L428.78 40.33L429.42 40.60L429.96 40.97L430.38 41.40L430.81 42.01L431.13 42.62L431.45 43.41L431.67 44.06L431.88 44.81L432.09 45.67L432.31 46.65L432.52 47.73L432.73 48.92L432.84 49.54L432.95 50.18L433.05 50.83L433.16 51.49L433.27 52.16L433.37 52.84L433.48 53.52L433.59 54.20L433.69 54.88L433.80 55.57L433.91 56.26L434.01 56.95L434.12 57.65L434.23 58.36L434.34 59.09L434.44 59.83L434.55 60.60L434.66 61.38L434.76 62.19L434.87 63.02L434.98 63.87L435.08 64.73L435.19 65.61L435.30 66.51L435.40 67.40L435.51 68.30L435.62 69.20L435.72 70.09L435.83 70.98L435.94 71.86L436.04 72.72L436.15 73.58L436.26 74.42L436.36 75.25L436.47 76.07L436.58 76.88L436.68 77.69L436.79 78.48L436.90 79.27L437.01 80.05L437.11 80.82L437.22 81.59L437.33 82.36L437.43 83.12L437.54 83.88L437.65 84.63L437.75 85.38L437.86 86.12L437.97 86.86L438.07 87.60L438.18 88.33L438.29 89.05L438.39 89.76L438.50 90.47L438.61 91.17L438.71 91.86L438.82 92.54L438.93 93.20L439.03 93.86L439.14 94.50L439.25 95.14L439.35 95.76L439.46 96.36L439.57 96.96L439.78 98.12L440.00 99.23L440.21 100.31L440.42 101.35L440.64 102.37L440.85 103.35L441.06 104.32L441.28 105.26L441.49 106.17L441.70 107.06L441.92 107.93L442.13 108.78L442.35 109.59L442.56 110.39L442.77 111.16L442.99 111.90L443.20 112.62L443.41 113.31L443.63 113.98L443.84 114.62L444.05 115.24L444.27 115.84L444.48 116.41L444.80 117.23L445.12 118.01L445.44 118.75L445.76 119.46L446.08 120.15L446.40 120.82L446.72 121.47L447.04 122.13L447.36 122.78L447.69 123.44L448.01 124.12L448.33 124.81L448.65 125.52L448.97 126.25L449.29 127.00L449.61 127.76L449.93 128.53L450.25 129.29L450.57 130.04L450.89 130.78L451.21 131.49L451.53 132.19L451.85 132.86L452.17 133.52L452.49 134.16L452.81 134.79L453.13 135.41L453.45 136.01L453.77 136.60L454.09 137.18L454.41 137.74L454.73 138.30L455.05 138.84L455.37 139.37L455.70 139.89L456.02 140.40L456.44 141.07L456.87 141.71L457.30 142.34L457.72 142.96L458.15 143.56L458.58 144.14L459.01 144.71L459.43 145.27L459.86 145.82L460.29 146.35L460.71 146.87L461.14 147.37L461.57 147.87L462.00 148.35L462.42 148.83L462.85 149.29L463.28 149.75L463.71 150.19L464.13 150.62L464.56 151.05L465.09 151.57L465.63 152.08L466.16 152.57L466.70 153.05L467.23 153.52L467.76 153.98L468.30 154.42L468.83 154.86L469.37 155.29L469.90 155.70L470.43 156.11L470.97 156.51L471.50 156.90L472.04 157.28L472.57 157.65L473.10 158.01L473.64 158.37L474.17 158.72L474.71 159.06L475.24 159.39L475.77 159.72L476.31 160.04L476.84 160.35L477.38 160.66L477.91 160.96L478.44 161.26L478.98 161.55L479.51 161.84L480.05 162.11L480.58 162.39L481.22 162.71L481.86 163.03L482.50 163.33L483.14 163.64L483.78 163.93L484.42 164.22L485.07 164.50L485.71 164.78L486.35 165.05L486.99 165.32L487.63 165.58L488.27 165.83L488.91 166.08L489.55 166.33L490.19 166.57L490.83 166.81L491.47 167.04L492.11 167.26L492.75 167.49L493.40 167.71L494.04 167.92L494.68 168.13L495.32 168.34L495.96 168.54L496.60 168.74L497.24 168.94L497.88 169.13L498.52 169.32L499.16 169.51L499.80 169.69L500.44 169.87L501.09 170.05L501.73 170.23L502.37 170.40L503.01 170.57L503.65 170.73L504.29 170.90L504.93 171.06L505.57 171.22L506.21 171.37L506.85 171.52L507.49 171.68L508.13 171.83L508.77 171.97L509.42 172.12L510.06 172.26L510.70 172.40L511.34 172.54L511.98 172.67L512.62 172.81L513.26 172.94L513.90 173.07L514.54 173.20L515.18 173.33L515.82 173.45L516.46 173.57L517.11 173.70L517.75 173.82L518.39 173.93L519.03 174.05L519.67 174.17L520.31 174.28L520.95 174.39L521.59 174.50L522.23 174.61L522.87 174.72L523.51 174.83L524.15 174.93L524.79 175.03L525.44 175.14L526.08 175.24L526.72 175.34L527.36 175.44L528.00 175.53L528.64 175.63L529.28 175.73L529.92 175.82L530.56 175.91L531.20 176.00L531.84 176.10L532.48 176.18L533.13 176.27L533.77 176.36L534.41 176.45L535.05 176.53L535.69 176.62L536.33 176.70L536.97 176.78L537.61 176.86L538.25 176.95L538.89 177.03L539.53 177.10L540.17 177.18L540.81 177.26L541.46 177.34L542.10 177.41L542.74 177.49L543.38 177.56L544.02 177.63L544.66 177.71L545.30 177.78L545.94 177.85L546.58 177.92L547.22 177.99L547.86 178.06L548.50 178.12L549.15 178.19L549.79 178.26L550.43 178.32L551.07 178.39L551.71 178.45L552.35 178.52L552.99 178.58L553.63 178.64L554.27 178.71L554.91 178.77L555.55 178.83L556.19 178.89L556.83 178.95L557.48 179.01L558.12 179.07L558.76 179.13L559.40 179.18L560.04 179.24L560.68 179.30L561.32 179.35L561.96 179.41L562.60 179.46L563.24 179.52L563.88 179.57L564.52 179.62L565.17 179.68L565.81 179.73L566.45 179.78L567.09 179.83L567.73 179.88L568.37 179.93L569.01 179.98L569.65 180.03L570.29 180.08L570.93 180.13L571.57 180.18L572.21 180.23L572.85 180.28L573.50 180.32L574.14 180.37L574.78 180.42L575.42 180.46L576.06 180.51L576.70 180.55L577.34 180.60L577.98 180.64L578.62 180.69L579.26 180.73L579.90 180.77L580.54 180.82L581.19 180.86L581.83 180.90L582.47 180.94L583.11 180.98L583.75 181.03L584.39 181.07L585.03 181.11L585.67 181.15L586.31 181.19L586.95 181.23L587.59 181.27L588.23 181.31L588.87 181.35L589.52 181.38L590.16 181.42L590.80 181.46L591.44 181.50L592.08 181.53L592.72 181.57L593.36 181.61L594.00 181.64L594.64 181.68L595.28 181.72L595.92 181.75L596.56 181.79L597.21 181.82L597.85 181.86L598.49 181.89L599.13 181.93L599.77 181.96L600.41 181.99L601.05 182.03L601.69 182.06L602.33 182.10L602.97 182.13L603.61 182.16L604.25 182.19L604.89 182.23L605.54 182.26L606.18 182.29L606.82 182.32L607.46 182.35L608.10 182.38L608.74 182.41L609.38 182.44L610.02 182.47L610.66 182.51L611.30 182.54L611.94 182.57L612.58 182.59L613.23 182.62L613.87 182.65L614.51 182.68L615.15 182.71L615.79 182.74L616.43 182.77L617.07 182.80L617.71 182.82L618.35 182.85L618.99 182.88L619.63 182.91L620.27 182.94L620.91 182.96L621.56 182.99L622.20 183.02L622.84 183.04L623.48 183.07L624.12 183.10L624.76 183.12L625.40 183.15L626.04 183.17L626.68 183.20L627.32 183.22L627.96 183.25L628.60 183.28L629.25 183.30L629.89 183.33L630.53 183.35L631.17 183.37L631.81 183.40L632.45 183.42L633.09 183.45L633.73 183.47L634.37 183.49L635.01 183.52L635.65 183.54L636.29 183.57L636.93 183.59L637.58 183.61L638.22 183.63L638.86 183.66L639.50 183.68L640.14 183.70L640.78 183.72L641.10 183.73" fill="none" stroke="#2ca02c" stroke-width="1.5" stroke-linejoin="round"/>
<path d="M427.50 40.06L428.14 40.06L428.78 40.06L429.42 40.06L430.06 40.06L430.70 40.06L431.34 40.06L431.99 40.06L432.63 40.06L433.27 40.06L433.91 40.07L434.55 40.07L435.19 40.08L435.83 40.09L436.47 40.10L437.11 40.13L437.75 40.19L438.39 40.27L439.03 40.41L439.68 40.60L440.32 40.84L440.96 41.13L441.49 41.42L442.02 41.74L442.56 42.09L443.09 42.48L443.63 42.91L444.16 43.37L444.69 43.87L445.23 44.39L445.66 44.84L446.08 45.30L446.51 45.78L446.94 46.27L447.36 46.78L447.79 47.31L448.22 47.85L448.65 48.41L449.07 48.99L449.50 49.58L449.93 50.20L450.36 50.83L450.78 51.48L451.21 52.15L451.64 52.82L451.96 53.33L452.28 53.84L452.60 54.36L452.92 54.87L453.35 55.54L453.77 56.21L454.20 56.87L454.63 57.52L455.05 58.17L455.48 58.81L455.91 59.44L456.34 60.07L456.76 60.70L457.19 61.32L457.62 61.93L458.04 62.55L458.47 63.16L458.90 63.78L459.33 64.39L459.75 65.01L460.18 65.63L460.61 66.26L461.04 66.88L461.46 67.50L461.89 68.13L462.32 68.75L462.74 69.37L463.17 69.99L463.60 70.60L464.03 71.22L464.45 71.82L464.88 72.43L465.31 73.03L465.73 73.63L466.16 74.22L466.59 74.81L467.02 75.39L467.44 75.96L467.87 76.52L468.30 77.08L468.72 77.63L469.15 78.17L469.58 78.70L470.01 79.23L470.43 79.75L470.86 80.28L471.29 80.79L471.72 81.31L472.14 81.84L472.57 82.36L473.00 82.89L473.42 83.43L473.85 83.97L474.28 84.52L474.71 85.09L475.13 85.66L475.56 86.23L475.99 86.82L476.41 87.40L476.84 87.99L477.27 88.58L477.70 89.16L478.12 89.74L478.55 90.31L478.98 90.87L479.40 91.43L479.83 91.97L480.26 92.51L480.69 93.05L481.11 93.57L481.54 94.10L481.97 94.61L482.40 95.12L482.82 95.63L483.25 96.13L483.68 96.62L484.10 97.11L484.53 97.59L484.96 98.07L485.39 98.55L485.81 99.02L486.24 99.48L486.67 99.94L487.09 100.40L487.52 100.85L487.95 101.30L488.38 101.74L488.80 102.18L489.23 102.61L489.66 103.04L490.08 103.47L490.51 103.89L491.05 104.41L491.58 104.93L492.11 105.44L492.65 105.94L493.18 106.44L493.72 106.93L494.25 107.41L494.78 107.89L495.32 108.37L495.85 108.84L496.39 109.30L496.92 109.76L497.45 110.22L497.99 110.67L498.52 111.11L499.06 111.55L499.59 111.98L500.12 112.41L500.66 112.84L501.19 113.26L501.73 113.68L502.26 114.09L502.79 114.50L503.33 114.90L503.86 115.30L504.40 115.69L504.93 116.08L505.46 116.47L506.00 116.85L506.53 117.23L507.07 117.61L507.60 117.98L508.13 118.35L508.67 118.71L509.20 119.07L509.74 119.43L510.27 119.78L510.80 120.13L511.34 120.48L511.87 120.82L512.41 121.16L512.94 121.50L513.47 121.83L514.01 122.16L514.54 122.49L515.08 122.81L515.61 123.14L516.14 123.45L516.68 123.77L517.21 124.08L517.75 124.39L518.28 124.70L518.81 125.00L519.35 125.30L519.88 125.60L520.42 125.90L520.95 126.19L521.48 126.48L522.02 126.77L522.55 127.05L523.09 127.34L523.62 127.62L524.15 127.90L524.69 128.17L525.33 128.50L525.97 128.82L526.61 129.14L527.25 129.46L527.89 129.78L528.53 130.09L529.17 130.40L529.81 130.70L530.46 131.00L531.10 131.30L531.74 131.60L532.38 131.89L533.02 132.18L533.66 132.47L534.30 132.75L534.94 133.04L535.58 133.32L536.22 133.59L536.86 133.87L537.50 134.14L538.14 134.41L538.79 134.67L539.43 134.94L540.07 135.20L540.71 135.46L541.35 135.71L541.99 135.97L542.63 136.22L543.27 136.47L543.91 136.72L544.55 136.96L545.19 137.21L545.83 137.45L546.48 137.69L547.12 137.92L547.76 138.16L548.40 138.39L549.04 138.62L549.68 138.85L550.32 139.08L550.96 139.30L551.60 139.53L552.24 139.75L552.88 139.97L553.52 140.18L554.16 140.40L554.81 140.61L555.45 140.82L556.09 141.03L556.73 141.24L557.37 141.45L558.01 141.65L558.65 141.86L559.29 142.06L559.93 142.26L560.57 142.46L561.21 142.65L561.85 142.85L562.50 143.04L563.14 143.24L563.78 143.43L564.42 143.61L565.06 143.80L565.70 143.99L566.34 144.17L566.98 144.36L567.62 144.54L568.26 144.72L568.90 144.90L569.54 145.08L570.18 145.25L570.83 145.43L571.47 145.60L572.11 145.77L572.75 145.95L573.39 146.11L574.03 146.28L574.67 146.45L575.31 146.62L575.95 146.78L576.59 146.95L577.23 147.11L577.87 147.27L578.52 147.43L579.16 147.59L579.80 147.75L580.44 147.90L581.08 148.06L581.72 148.21L582.36 148.37L583.00 148.52L583.64 148.67L584.28 148.82L584.92 148.97L585.56 149.12L586.20 149.27L586.85 149.41L587.49 149.56L588.13 149.70L588.77 149.84L589.41 149.99L590.05 150.13L590.69 150.27L591.33 150.41L591.97 150.54L592.61 150.68L593.25 150.82L593.89 150.95L594.54 151.09L595.18 151.22L595.82 151.36L596.46 151.49L597.10 151.62L597.74 151.75L598.38 151.88L599.02 152.01L599.66 152.13L600.30 152.26L600.94 152.39L601.58 152.51L602.22 152.64L602.87 152.76L603.51 152.88L604.15 153.01L604.79 153.13L605.43 153.25L606.07 153.37L606.71 153.49L607.35 153.61L607.99 153.72L608.63 153.84L609.27 153.96L609.91 154.07L610.56 154.19L611.20 154.30L611.84 154.41L612.48 154.53L613.12 154.64L613.76 154.75L614.40 154.86L615.04 154.97L615.68 155.08L616.32 155.19L616.96 155.30L617.60 155.40L618.24 155.51L618.89 155.62L619.53 155.72L620.17 155.83L620.81 155.93L621.45 156.03L622.09 156.14L622.73 156.24L623.37 156.34L624.01 156.44L624.65 156.54L625.29 156.64L625.93 156.74L626.58 156.84L627.22 156.94L627.86 157.04L628.50 157.14L629.14 157.23L629.78 157.33L630.42 157.42L631.06 157.52L631.70 157.61L632.34 157.71L632.98 157.80L633.62 157.90L634.26 157.99L634.91 158.08L635.55 158.17L636.19 158.26L636.83 158.35L637.47 158.44L638.11 158.53L638.75 158.62L639.39 158.70L640.03 158.78L640.67 158.84L641.10 158.87" fill="none" stroke="#d62728" stroke-width="1.5" stroke-linejoin="round"/>
<path d="M448.86 182.23L449.50 182.49L450.15 182.74L450.79 182.98L451.43 183.20L452.07 183.41L452.72 183.61L453.36 183.80L454.00 183.99L454.65 184.16L455.29 184.33L455.93 184.48L456.58 184.63L457.22 184.78L457.86 184.92L458.50 185.05L459.15 185.18L459.79 185.30L460.43 185.41L461.08 185.53L461.72 185.64L462.36 185.74L463.00 185.84L463.65 185.94L464.29 186.03L464.93 186.12L465.58 186.21L466.22 186.29L466.86 186.38L467.51 186.45L468.15 186.53L468.79 186.61L469.43 186.68L470.08 186.75L470.72 186.82L471.36 186.88L472.01 186.94L472.65 187.01L473.29 187.07L473.93 187.13L474.58 187.18L475.22 187.24L475.86 187.29L476.51 187.34L477.15 187.40L477.79 187.45L478.44 187.49L479.08 187.54L479.72 187.59L480.36 187.63L481.01 187.68L481.65 187.72L482.29 187.76L482.94 187.80L483.58 187.84L484.22 187.88L484.86 187.92L485.51 187.96L486.15 188.00L486.79 188.03L487.44 188.07L488.08 188.10L488.72 188.13L489.37 188.17L490.01 188.20L490.65 188.23L491.29 188.26L491.94 188.29L492.58 188.32L493.22 188.35L493.87 188.38L494.51 188.41L495.15 188.43L495.79 188.46L496.44 188.49L497.08 188.51L497.72 188.54L498.37 188.56L499.01 188.59L499.65 188.61L500.30 188.64L500.94 188.66L501.58 188.68L502.22 188.71L502.87 188.73L503.51 188.75L504.15 188.77L504.80 188.79L505.44 188.81L506.08 188.83L506.72 188.85L507.37 188.87L508.01 188.89L508.65 188.91L509.30 188.93L509.94 188.95L510.58 188.97L511.23 188.98L511.87 189.00L512.51 189.02L513.15 189.04L513.80 189.05L514.44 189.07L515.08 189.09L515.73 189.10L516.37 189.12L517.01 189.13L517.65 189.15L518.30 189.17L518.94 189.18L519.58 189.20L520.23 189.21L520.87 189.22L521.51 189.24L522.16 189.25L522.80 189.27L523.44 189.28L524.08 189.29L524.73 189.31L525.37 189.32L526.01 189.33L526.66 189.35L527.30 189.36L527.94 189.37L528.58 189.38L529.23 189.39L529.87 189.41L530.51 189.42L531.16 189.43L531.80 189.44L532.44 189.45L533.09 189.46L533.73 189.48L534.37 189.49L535.01 189.50L535.66 189.51L536.30 189.52L536.94 189.53L537.59 189.54L538.23 189.55L538.87 189.56L539.51 189.57L540.16 189.58L540.80 189.59L541.44 189.60L542.09 189.61L542.73 189.62L543.37 189.63L544.02 189.64L544.66 189.65L545.30 189.65L545.94 189.66L546.59 189.67L547.23 189.68L547.87 189.69L548.52 189.70L549.16 189.71L549.80 189.72L550.45 189.72L551.09 189.73L551.73 189.74L552.37 189.75L553.02 189.76L553.66 189.76L554.30 189.77L554.95 189.78L555.59 189.79L556.23 189.79L556.87 189.80L557.52 189.81L558.16 189.82L558.80 189.82L559.45 189.83L560.09 189.84L560.73 189.85L561.38 189.85L562.02 189.86L562.66 189.87L563.30 189.87L563.95 189.88L564.59 189.89L565.23 189.89L565.88 189.90L566.52 189.91L567.16 189.91L567.80 189.92L568.45 189.92L569.09 189.93L569.73 189.94L570.38 189.94L571.02 189.95L571.66 189.96L572.31 189.96L572.95 189.97L573.59 189.97L574.23 189.98L574.88 189.98L575.52 189.99L576.16 190.00L576.81 190.00L577.45 190.01L578.09 190.01L578.73 190.02L579.38 190.02L580.02 190.03L580.66 190.03L581.31 190.04L581.95 190.05L582.59 190.05L583.24 190.06L583.88 190.06L584.52 190.07L585.16 190.07L585.81 190.08L586.45 190.08L587.09 190.09L587.74 190.09L588.38 190.10L589.02 190.10L589.66 190.10L590.31 190.11L590.95 190.11L591.59 190.12L592.24 190.12L592.88 190.13L593.52 190.13L594.17 190.14L594.81 190.14L595.45 190.15L596.09 190.15L596.74 190.15L597.38 190.16L598.02 190.16L598.67 190.17L599.31 190.17L599.95 190.18L600.59 190.18L601.24 190.18L601.88 190.19L602.52 190.19L603.17 190.20L603.81 190.20L604.45 190.20L605.10 190.21L605.74 190.21L606.38 190.22L607.02 190.22L607.67 190.22L608.31 190.23L608.95 190.23L609.60 190.24L610.24 190.24L610.88 190.24L611.52 190.25L612.17 190.25L612.81 190.25L613.45 190.26L614.10 190.26L614.74 190.26L615.38 190.27L616.03 190.27L616.67 190.28L617.31 190.28L617.95 190.28L618.60 190.29L619.24 190.29L619.88 190.29L620.53 190.30L621.17 190.30L621.81 190.30L622.45 190.31L623.10 190.31L623.74 190.31L624.38 190.32L625.03 190.32L625.67 190.32L626.31 190.33L626.96 190.33L627.60 190.33L628.24 190.33L628.88 190.34L629.53 190.34L630.17 190.34L630.81 190.35L631.46 190.35L632.10 190.35L632.74 190.36L633.38 190.36L634.03 190.36L634.67 190.36L635.31 190.37L635.96 190.37L636.60 190.37L637.24 190.38L637.89 190.38L638.53 190.38L639.17 190.38L639.81 190.39L640.46 190.39L641.10 190.39" fill="none" stroke="#2b2b2b" stroke-width="1.35" stroke-dasharray="5.6 5.7" stroke-dashoffset="0"/>
<path d="M448.69 156.23L449.33 157.27L449.98 158.24L450.62 159.16L451.26 160.03L451.91 160.86L452.55 161.64L453.19 162.38L453.84 163.09L454.48 163.76L455.12 164.40L455.77 165.02L456.41 165.60L457.05 166.16L457.70 166.70L458.34 167.21L458.99 167.70L459.63 168.17L460.27 168.63L460.92 169.06L461.56 169.49L462.20 169.89L462.85 170.28L463.49 170.66L464.13 171.02L464.78 171.37L465.42 171.71L466.06 172.03L466.71 172.35L467.35 172.66L467.99 172.95L468.64 173.24L469.28 173.52L469.93 173.79L470.57 174.05L471.21 174.30L471.86 174.55L472.50 174.79L473.14 175.02L473.79 175.25L474.43 175.47L475.07 175.68L475.72 175.89L476.36 176.09L477.00 176.29L477.65 176.48L478.29 176.67L478.93 176.85L479.58 177.03L480.22 177.21L480.86 177.38L481.51 177.54L482.15 177.70L482.80 177.86L483.44 178.02L484.08 178.17L484.73 178.32L485.37 178.46L486.01 178.60L486.66 178.74L487.30 178.88L487.94 179.01L488.59 179.14L489.23 179.26L489.87 179.39L490.52 179.51L491.16 179.63L491.80 179.75L492.45 179.86L493.09 179.97L493.74 180.08L494.38 180.19L495.02 180.30L495.67 180.40L496.31 180.50L496.95 180.60L497.60 180.70L498.24 180.80L498.88 180.89L499.53 180.98L500.17 181.08L500.81 181.17L501.46 181.25L502.10 181.34L502.74 181.43L503.39 181.51L504.03 181.59L504.67 181.67L505.32 181.75L505.96 181.83L506.61 181.91L507.25 181.98L507.89 182.06L508.54 182.13L509.18 182.20L509.82 182.27L510.47 182.34L511.11 182.41L511.75 182.48L512.40 182.55L513.04 182.61L513.68 182.68L514.33 182.74L514.97 182.81L515.61 182.87L516.26 182.93L516.90 182.99L517.55 183.05L518.19 183.11L518.83 183.16L519.48 183.22L520.12 183.28L520.76 183.33L521.41 183.39L522.05 183.44L522.69 183.49L523.34 183.55L523.98 183.60L524.62 183.65L525.27 183.70L525.91 183.75L526.55 183.80L527.20 183.85L527.84 183.90L528.48 183.94L529.13 183.99L529.77 184.04L530.42 184.08L531.06 184.13L531.70 184.17L532.35 184.21L532.99 184.26L533.63 184.30L534.28 184.34L534.92 184.38L535.56 184.42L536.21 184.47L536.85 184.51L537.49 184.55L538.14 184.58L538.78 184.62L539.42 184.66L540.07 184.70L540.71 184.74L541.36 184.77L542.00 184.81L542.64 184.85L543.29 184.88L543.93 184.92L544.57 184.95L545.22 184.99L545.86 185.02L546.50 185.06L547.15 185.09L547.79 185.12L548.43 185.16L549.08 185.19L549.72 185.22L550.36 185.25L551.01 185.28L551.65 185.32L552.29 185.35L552.94 185.38L553.58 185.41L554.23 185.44L554.87 185.47L555.51 185.50L556.16 185.52L556.80 185.55L557.44 185.58L558.09 185.61L558.73 185.64L559.37 185.67L560.02 185.69L560.66 185.72L561.30 185.75L561.95 185.77L562.59 185.80L563.23 185.83L563.88 185.85L564.52 185.88L565.17 185.90L565.81 185.93L566.45 185.95L567.10 185.98L567.74 186.00L568.38 186.03L569.03 186.05L569.67 186.07L570.31 186.10L570.96 186.12L571.60 186.14L572.24 186.17L572.89 186.19L573.53 186.21L574.17 186.23L574.82 186.26L575.46 186.28L576.11 186.30L576.75 186.32L577.39 186.34L578.04 186.36L578.68 186.39L579.32 186.41L579.97 186.43L580.61 186.45L581.25 186.47L581.90 186.49L582.54 186.51L583.18 186.53L583.83 186.55L584.47 186.57L585.11 186.59L585.76 186.61L586.40 186.62L587.04 186.64L587.69 186.66L588.33 186.68L588.98 186.70L589.62 186.72L590.26 186.74L590.91 186.75L591.55 186.77L592.19 186.79L592.84 186.81L593.48 186.82L594.12 186.84L594.77 186.86L595.41 186.88L596.05 186.89L596.70 186.91L597.34 186.93L597.98 186.94L598.63 186.96L599.27 186.97L599.92 186.99L600.56 187.01L601.20 187.02L601.85 187.04L602.49 187.05L603.13 187.07L603.78 187.09L604.42 187.10L605.06 187.12L605.71 187.13L606.35 187.15L606.99 187.16L607.64 187.18L608.28 187.19L608.92 187.20L609.57 187.22L610.21 187.23L610.85 187.25L611.50 187.26L612.14 187.28L612.79 187.29L613.43 187.30L614.07 187.32L614.72 187.33L615.36 187.34L616.00 187.36L616.65 187.37L617.29 187.39L617.93 187.40L618.58 187.41L619.22 187.42L619.86 187.44L620.51 187.45L621.15 187.46L621.79 187.48L622.44 187.49L623.08 187.50L623.73 187.51L624.37 187.53L625.01 187.54L625.66 187.55L626.30 187.56L626.94 187.57L627.59 187.59L628.23 187.60L628.87 187.61L629.52 187.62L630.16 187.63L630.80 187.65L631.45 187.66L632.09 187.67L632.73 187.68L633.38 187.69L634.02 187.70L634.66 187.71L635.31 187.72L635.95 187.74L636.60 187.75L637.24 187.76L637.88 187.77L638.53 187.78L639.17 187.79L639.81 187.80L640.46 187.81L641.10 187.82" fill="none" stroke="#2b2b2b" stroke-width="1.35" stroke-dasharray="5.6 5.7" stroke-dashoffset="0"/>
<path d="M448.69 112.63L449.33 114.95L449.98 117.14L450.62 119.20L451.26 121.15L451.91 123.00L452.55 124.76L453.19 126.42L453.84 128.01L454.48 129.52L455.12 130.96L455.77 132.33L456.41 133.64L457.05 134.90L457.70 136.10L458.34 137.25L458.99 138.36L459.63 139.42L460.27 140.44L460.92 141.42L461.56 142.36L462.20 143.27L462.85 144.14L463.49 144.98L464.13 145.80L464.78 146.58L465.42 147.34L466.06 148.08L466.71 148.78L467.35 149.47L467.99 150.14L468.64 150.78L469.28 151.40L469.93 152.01L470.57 152.60L471.21 153.17L471.86 153.72L472.50 154.26L473.14 154.78L473.79 155.29L474.43 155.78L475.07 156.26L475.72 156.73L476.36 157.18L477.00 157.63L477.65 158.06L478.29 158.48L478.93 158.89L479.58 159.29L480.22 159.68L480.86 160.06L481.51 160.44L482.15 160.80L482.80 161.15L483.44 161.50L484.08 161.84L484.73 162.17L485.37 162.50L486.01 162.81L486.66 163.12L487.30 163.43L487.94 163.72L488.59 164.01L489.23 164.30L489.87 164.58L490.52 164.85L491.16 165.12L491.80 165.38L492.45 165.63L493.09 165.89L493.74 166.13L494.38 166.38L495.02 166.61L495.67 166.85L496.31 167.07L496.95 167.30L497.60 167.52L498.24 167.74L498.88 167.95L499.53 168.16L500.17 168.36L500.81 168.56L501.46 168.76L502.10 168.96L502.74 169.15L503.39 169.33L504.03 169.52L504.67 169.70L505.32 169.88L505.96 170.06L506.61 170.23L507.25 170.40L507.89 170.57L508.54 170.73L509.18 170.89L509.82 171.05L510.47 171.21L511.11 171.36L511.75 171.52L512.40 171.67L513.04 171.81L513.68 171.96L514.33 172.10L514.97 172.24L515.61 172.38L516.26 172.52L516.90 172.65L517.55 172.79L518.19 172.92L518.83 173.05L519.48 173.18L520.12 173.30L520.76 173.43L521.41 173.55L522.05 173.67L522.69 173.79L523.34 173.91L523.98 174.02L524.62 174.14L525.27 174.25L525.91 174.36L526.55 174.47L527.20 174.58L527.84 174.69L528.48 174.79L529.13 174.90L529.77 175.00L530.42 175.10L531.06 175.20L531.70 175.30L532.35 175.40L532.99 175.50L533.63 175.59L534.28 175.69L534.92 175.78L535.56 175.87L536.21 175.97L536.85 176.06L537.49 176.15L538.14 176.23L538.78 176.32L539.42 176.41L540.07 176.49L540.71 176.58L541.36 176.66L542.00 176.74L542.64 176.82L543.29 176.90L543.93 176.98L544.57 177.06L545.22 177.14L545.86 177.22L546.50 177.29L547.15 177.37L547.79 177.44L548.43 177.52L549.08 177.59L549.72 177.66L550.36 177.73L551.01 177.80L551.65 177.87L552.29 177.94L552.94 178.01L553.58 178.08L554.23 178.15L554.87 178.21L555.51 178.28L556.16 178.34L556.80 178.41L557.44 178.47L558.09 178.54L558.73 178.60L559.37 178.66L560.02 178.72L560.66 178.78L561.30 178.84L561.95 178.90L562.59 178.96L563.23 179.02L563.88 179.08L564.52 179.13L565.17 179.19L565.81 179.25L566.45 179.30L567.10 179.36L567.74 179.41L568.38 179.47L569.03 179.52L569.67 179.58L570.31 179.63L570.96 179.68L571.60 179.73L572.24 179.78L572.89 179.83L573.53 179.89L574.17 179.94L574.82 179.98L575.46 180.03L576.11 180.08L576.75 180.13L577.39 180.18L578.04 180.23L578.68 180.27L579.32 180.32L579.97 180.37L580.61 180.41L581.25 180.46L581.90 180.50L582.54 180.55L583.18 180.59L583.83 180.64L584.47 180.68L585.11 180.72L585.76 180.77L586.40 180.81L587.04 180.85L587.69 180.89L588.33 180.94L588.98 180.98L589.62 181.02L590.26 181.06L590.91 181.10L591.55 181.14L592.19 181.18L592.84 181.22L593.48 181.26L594.12 181.30L594.77 181.33L595.41 181.37L596.05 181.41L596.70 181.45L597.34 181.49L597.98 181.52L598.63 181.56L599.27 181.60L599.92 181.63L600.56 181.67L601.20 181.70L601.85 181.74L602.49 181.77L603.13 181.81L603.78 181.84L604.42 181.88L605.06 181.91L605.71 181.95L606.35 181.98L606.99 182.01L607.64 182.05L608.28 182.08L608.92 182.11L609.57 182.14L610.21 182.18L610.85 182.21L611.50 182.24L612.14 182.27L612.79 182.30L613.43 182.33L614.07 182.37L614.72 182.40L615.36 182.43L616.00 182.46L616.65 182.49L617.29 182.52L617.93 182.55L618.58 182.58L619.22 182.61L619.86 182.63L620.51 182.66L621.15 182.69L621.79 182.72L622.44 182.75L623.08 182.78L623.73 182.81L624.37 182.83L625.01 182.86L625.66 182.89L626.30 182.92L626.94 182.94L627.59 182.97L628.23 183.00L628.87 183.02L629.52 183.05L630.16 183.07L630.80 183.10L631.45 183.13L632.09 183.15L632.73 183.18L633.38 183.20L634.02 183.23L634.66 183.25L635.31 183.28L635.95 183.30L636.60 183.33L637.24 183.35L637.88 183.38L638.53 183.40L639.17 183.42L639.81 183.45L640.46 183.47L641.10 183.50" fill="none" stroke="#2b2b2b" stroke-width="1.35" stroke-dasharray="5.6 5.7" stroke-dashoffset="0"/>
<path d="M474.06 30.35L474.62 32.26L475.18 34.12L475.74 35.94L476.30 37.72L476.86 39.46L477.42 41.16L477.98 42.82L478.53 44.44L479.09 46.03L479.65 47.59L480.21 49.11L480.77 50.60L481.33 52.06L481.89 53.50L482.44 54.90L483.00 56.27L483.56 57.61L484.12 58.93L484.68 60.23L485.24 61.50L485.80 62.74L486.36 63.96L486.91 65.16L487.47 66.33L488.03 67.49L488.59 68.62L489.15 69.73L489.71 70.82L490.27 71.89L490.82 72.95L491.38 73.98L491.94 75.00L492.50 76.00L493.06 76.98L493.62 77.95L494.18 78.90L494.73 79.83L495.29 80.75L495.85 81.65L496.41 82.54L496.97 83.42L497.53 84.28L498.09 85.12L498.65 85.96L499.20 86.78L499.76 87.59L500.32 88.38L500.88 89.17L501.44 89.94L502.00 90.70L502.56 91.45L503.11 92.18L503.67 92.91L504.23 93.63L504.79 94.33L505.35 95.03L505.91 95.71L506.47 96.39L507.02 97.06L507.58 97.71L508.14 98.36L508.70 99.00L509.26 99.63L509.82 100.26L510.38 100.87L510.94 101.47L511.49 102.07L512.05 102.66L512.61 103.24L513.17 103.82L513.73 104.38L514.29 104.94L514.85 105.50L515.40 106.04L515.96 106.58L516.52 107.11L517.08 107.64L517.64 108.15L518.20 108.67L518.76 109.17L519.32 109.67L519.87 110.17L520.43 110.65L520.99 111.14L521.55 111.61L522.11 112.08L522.67 112.55L523.23 113.01L523.78 113.46L524.34 113.91L524.90 114.35L525.46 114.79L526.02 115.23L526.58 115.66L527.14 116.08L527.69 116.50L528.25 116.91L528.81 117.32L529.37 117.73L529.93 118.13L530.49 118.53L531.05 118.92L531.61 119.31L532.16 119.69L532.72 120.07L533.28 120.45L533.84 120.82L534.40 121.19L534.96 121.55L535.52 121.92L536.07 122.27L536.63 122.63L537.19 122.98L537.75 123.32L538.31 123.66L538.87 124.00L539.43 124.34L539.99 124.67L540.54 125.00L541.10 125.33L541.66 125.65L542.22 125.97L542.78 126.29L543.34 126.60L543.90 126.91L544.45 127.22L545.01 127.52L545.57 127.82L546.13 128.12L546.69 128.42L547.25 128.71L547.81 129.00L548.36 129.29L548.92 129.58L549.48 129.86L550.04 130.14L550.60 130.42L551.16 130.69L551.72 130.96L552.28 131.23L552.83 131.50L553.39 131.77L553.95 132.03L554.51 132.29L555.07 132.55L555.63 132.81L556.19 133.06L556.74 133.31L557.30 133.56L557.86 133.81L558.42 134.05L558.98 134.30L559.54 134.54L560.10 134.78L560.65 135.01L561.21 135.25L561.77 135.48L562.33 135.71L562.89 135.94L563.45 136.17L564.01 136.40L564.57 136.62L565.12 136.84L565.68 137.06L566.80 137.50L567.92 137.93L569.03 138.35L570.15 138.76L571.27 139.17L572.39 139.57L573.50 139.97L574.62 140.36L575.74 140.74L576.86 141.12L577.97 141.49L579.09 141.86L580.21 142.22L581.32 142.58L582.44 142.93L583.56 143.28L584.68 143.62L585.79 143.95L586.91 144.29L588.03 144.61L589.15 144.94L590.26 145.25L591.38 145.57L592.50 145.88L593.62 146.18L594.73 146.48L595.85 146.78L596.97 147.08L598.08 147.36L599.20 147.65L600.32 147.93L601.44 148.21L602.55 148.49L603.67 148.76L604.79 149.03L605.91 149.29L607.02 149.55L608.14 149.81L609.26 150.07L610.37 150.32L611.49 150.57L612.61 150.81L613.73 151.06L614.84 151.30L615.96 151.53L617.08 151.77L618.20 152.00L619.31 152.23L620.43 152.45L621.55 152.68L622.66 152.90L623.78 153.12L624.90 153.33L626.02 153.55L627.13 153.76L628.25 153.97L629.37 154.17L630.49 154.38L631.60 154.58L632.72 154.78L633.84 154.98L634.95 155.17L636.07 155.37L637.19 155.56L638.31 155.75L639.42 155.94L640.54 156.12L641.10 156.21" fill="none" stroke="#2b2b2b" stroke-width="1.35" stroke-dasharray="5.6 5.7" stroke-dashoffset="2.0"/>
<circle cx="427.50" cy="70.31" r="2.45" fill="#1f77b4"/>
<circle cx="454.34" cy="184.08" r="2.45" fill="#1f77b4"/>
<circle cx="481.18" cy="187.69" r="2.45" fill="#1f77b4"/>
<circle cx="508.03" cy="188.89" r="2.45" fill="#1f77b4"/>
<circle cx="534.87" cy="189.49" r="2.45" fill="#1f77b4"/>
<circle cx="561.71" cy="189.86" r="2.45" fill="#1f77b4"/>
<circle cx="588.55" cy="190.10" r="2.45" fill="#1f77b4"/>
<circle cx="615.39" cy="190.27" r="2.45" fill="#1f77b4"/>
<path d="M427.50 37.71l2.35 4.7h-4.7z" fill="#ff7f0e"/>
<path d="M454.34 162.18l2.35 4.7h-4.7z" fill="#ff7f0e"/>
<path d="M481.18 175.04l2.35 4.7h-4.7z" fill="#ff7f0e"/>
<path d="M508.03 179.57l2.35 4.7h-4.7z" fill="#ff7f0e"/>
<path d="M534.87 181.99l2.35 4.7h-4.7z" fill="#ff7f0e"/>
<path d="M561.71 183.35l2.35 4.7h-4.7z" fill="#ff7f0e"/>
<path d="M588.55 184.26l2.35 4.7h-4.7z" fill="#ff7f0e"/>
<path d="M615.39 184.87l2.35 4.7h-4.7z" fill="#ff7f0e"/>
<path d="M427.50 42.41l2.35 -4.7h-4.7z" fill="#2ca02c"/>
<path d="M454.34 137.84l2.35 -4.7h-4.7z" fill="#2ca02c"/>
<path d="M481.18 163.40l2.35 -4.7h-4.7z" fill="#2ca02c"/>
<path d="M508.03 172.48l2.35 -4.7h-4.7z" fill="#2ca02c"/>
<path d="M534.87 177.32l2.35 -4.7h-4.7z" fill="#2ca02c"/>
<path d="M561.71 180.34l2.35 -4.7h-4.7z" fill="#2ca02c"/>
<path d="M588.55 182.31l2.35 -4.7h-4.7z" fill="#2ca02c"/>
<path d="M615.39 183.67l2.35 -4.7h-4.7z" fill="#2ca02c"/>
<rect x="425.00" y="37.56" width="5.0" height="5.0" fill="#d62728"/>
<rect x="451.84" y="50.57" width="5.0" height="5.0" fill="#d62728"/>
<rect x="478.68" y="84.90" width="5.0" height="5.0" fill="#d62728"/>
<rect x="505.53" y="108.64" width="5.0" height="5.0" fill="#d62728"/>
<rect x="532.37" y="123.77" width="5.0" height="5.0" fill="#d62728"/>
<rect x="559.21" y="134.35" width="5.0" height="5.0" fill="#d62728"/>
<rect x="586.05" y="142.22" width="5.0" height="5.0" fill="#d62728"/>
<rect x="612.89" y="148.27" width="5.0" height="5.0" fill="#d62728"/>
</g>
<rect x="427.5" y="32.5" width="213.60" height="158.80" fill="none" stroke="#a0a0a0" stroke-width="1.0"/>
<path d="M427.50 191.3v2.2M470.22 191.3v2.2M512.94 191.3v2.2M555.66 191.3v2.2M598.38 191.3v2.2M641.10 191.3v2.2M427.5 191.30h-2.2M427.5 161.05h-2.2M427.5 130.80h-2.2M427.5 100.56h-2.2M427.5 70.31h-2.2M427.5 40.06h-2.2" stroke="#777" stroke-width="0.7" fill="none"/>
<g font-family='"Liberation Serif", "Noto Serif CJK JP", "Noto Serif CJK SC", serif' font-size="6.9" fill="#333" stroke="#333" stroke-width="0.22">
<text transform="translate(427.50 199.80) rotate(0.03) scale(1.08 1)" text-anchor="middle">0</text>
<text transform="translate(470.22 199.80) rotate(0.03) scale(1.08 1)" text-anchor="middle">10</text>
<text transform="translate(512.94 199.80) rotate(0.03) scale(1.08 1)" text-anchor="middle">20</text>
<text transform="translate(555.66 199.80) rotate(0.03) scale(1.08 1)" text-anchor="middle">30</text>
<text transform="translate(598.38 199.80) rotate(0.03) scale(1.08 1)" text-anchor="middle">40</text>
<text transform="translate(641.10 199.80) rotate(0.03) scale(1.08 1)" text-anchor="middle">50</text>
<text transform="translate(424.70 193.90) rotate(0.03) scale(1.08 1)" text-anchor="end">0.0</text>
<text transform="translate(424.70 163.65) rotate(0.03) scale(1.08 1)" text-anchor="end">0.2</text>
<text transform="translate(424.70 133.40) rotate(0.03) scale(1.08 1)" text-anchor="end">0.4</text>
<text transform="translate(424.70 103.16) rotate(0.03) scale(1.08 1)" text-anchor="end">0.6</text>
<text transform="translate(424.70 72.91) rotate(0.03) scale(1.08 1)" text-anchor="end">0.8</text>
<text transform="translate(424.70 42.66) rotate(0.03) scale(1.08 1)" text-anchor="end">1.0</text>
</g>
<g font-family='"Liberation Serif", "Noto Serif CJK JP", "Noto Serif CJK SC", serif' fill="#111"><text x="478.5" y="21.4" font-style="italic" font-size="17" stroke="#111" stroke-width="0.25">L</text><text x="487.1" y="25.2" font-size="12.5" font-style="italic">y</text><text x="497.7" y="21.4" font-size="16">:</text><text x="507.90" y="20.50" font-size="15.6" letter-spacing="0.7" font-weight="600">奇数の場合</text></g>
<text transform="translate(406.9 116.0) rotate(-90)" text-anchor="middle" font-family='"Liberation Serif", "Noto Serif CJK JP", "Noto Serif CJK SC", serif' font-size="15.7" letter-spacing="0.5" font-weight="600" fill="#111">対称性の破れ</text>
<text x="514.5" y="222.3" text-anchor="middle" font-family='"Liberation Serif", "Noto Serif CJK JP", "Noto Serif CJK SC", serif' font-size="15.7" letter-spacing="0.5" font-weight="600" fill="#111">時間</text>
<clipPath id="pc2"><rect x="421.8" y="287.3" width="213.90" height="158.70"/></clipPath>
<g clip-path="url(#pc2)">
<path d="M421.80 294.86L422.43 294.86L423.05 294.86L423.68 294.86L424.31 294.86L424.94 294.86L425.56 294.86L426.19 294.86L426.82 294.87L427.45 295.00L428.00 295.22L428.56 295.55L428.91 296.11L429.12 296.86L429.26 297.49L429.40 298.21L429.54 298.98L429.68 299.82L429.81 300.88L429.88 301.50L429.95 302.18L430.02 302.90L430.09 303.68L430.16 304.50L430.23 305.36L430.30 306.25L430.37 307.18L430.44 308.14L430.51 309.13L430.58 310.14L430.65 311.17L430.72 312.24L430.79 313.36L430.86 314.55L430.93 315.81L431.00 317.16L431.07 318.61L431.14 320.18L431.21 321.87L431.28 323.70L431.35 325.69L431.42 327.85L431.49 330.35L431.56 333.45L431.63 337.08L431.70 341.21L431.77 345.78L431.84 350.73L431.91 356.06L431.97 363.18L432.04 371.34L432.11 378.36L432.18 384.18L432.25 389.33L432.32 393.08L432.39 395.67L432.46 397.83L432.53 399.50L432.60 400.66L432.67 401.50L432.74 402.24L432.81 402.89L432.95 403.92L433.09 404.61L433.30 405.18L433.65 405.75L434.00 406.32L434.34 406.85L434.69 407.34L435.11 407.88L435.53 408.36L435.95 408.79L436.44 409.25L436.92 409.65L437.41 410.02L437.97 410.39L438.53 410.74L439.08 411.05L439.64 411.35L440.20 411.63L440.76 411.89L441.31 412.13L441.94 412.38L442.57 412.60L443.20 412.81L443.82 413.03L444.45 413.24L445.08 413.47L445.70 413.72L446.26 413.97L446.82 414.21L447.38 414.44L448.00 414.65L448.63 414.83L449.26 415.00L450.23 415.23L450.85 415.35L451.47 415.47L452.10 415.58L452.72 415.68L453.34 415.78L453.96 415.87L454.59 415.95L455.21 416.03L455.83 416.11L456.45 416.18L457.08 416.25L457.70 416.32L458.32 416.38L458.94 416.44L459.57 416.50L460.19 416.55L460.81 416.61L461.43 416.66L462.05 416.71L462.68 416.76L463.30 416.81L463.92 416.85L464.54 416.90L465.17 416.95L465.79 416.99L466.41 417.03L467.03 417.07L467.66 417.11L468.28 417.15L468.90 417.19L469.52 417.23L470.15 417.27L470.77 417.31L471.39 417.35L472.01 417.38L472.64 417.42L473.26 417.46L473.88 417.49L474.50 417.53L475.12 417.56L475.75 417.60L476.37 417.63L476.99 417.67L477.61 417.70L478.24 417.74L478.86 417.77L479.48 417.80L480.10 417.83L480.73 417.87L481.35 417.90L481.97 417.93L482.59 417.96L483.22 417.99L483.84 418.02L484.46 418.04L485.08 418.07L485.71 418.10L486.33 418.13L486.95 418.15L487.57 418.18L488.19 418.20L488.82 418.23L489.44 418.25L490.06 418.28L490.68 418.30L491.31 418.32L491.93 418.34L492.55 418.37L493.17 418.39L493.80 418.41L494.42 418.43L495.04 418.45L495.66 418.47L496.29 418.48L496.91 418.50L497.53 418.52L498.15 418.54L498.78 418.55L499.40 418.57L500.02 418.59L500.64 418.60L501.26 418.62L501.89 418.63L502.51 418.64L503.13 418.66L503.75 418.67L504.38 418.69L505.00 418.70L505.62 418.71L506.24 418.72L506.87 418.74L507.49 418.75L508.11 418.76L508.73 418.77L509.36 418.79L509.98 418.80L510.60 418.81L511.22 418.82L511.85 418.83L512.47 418.84L513.09 418.85L513.71 418.86L514.34 418.88L514.96 418.89L515.58 418.90L516.20 418.91L516.82 418.92L517.45 418.93L518.07 418.94L518.69 418.94L519.31 418.95L519.94 418.96L520.56 418.97L521.18 418.98L521.80 418.99L522.43 419.00L523.05 419.01L523.67 419.02L524.29 419.03L524.92 419.03L525.54 419.04L526.16 419.05L526.78 419.06L527.41 419.07L528.03 419.07L528.65 419.08L529.27 419.09L529.89 419.10L530.52 419.10L531.14 419.11L531.76 419.12L532.38 419.13L533.01 419.13L533.63 419.14L534.25 419.15L534.87 419.15L535.50 419.16L536.12 419.17L536.74 419.17L537.36 419.18L537.99 419.19L538.61 419.19L539.23 419.20L539.85 419.21L540.48 419.21L541.10 419.22L541.72 419.22L542.34 419.23L542.96 419.24L543.59 419.24L544.21 419.25L544.83 419.25L545.45 419.26L546.08 419.27L546.70 419.27L547.32 419.28L547.94 419.28L548.57 419.29L549.19 419.29L549.81 419.30L550.43 419.30L551.06 419.31L551.68 419.31L552.30 419.32L552.92 419.32L553.55 419.33L554.17 419.33L554.79 419.34L555.41 419.34L556.03 419.35L556.66 419.35L557.28 419.36L557.90 419.36L558.52 419.36L559.15 419.37L559.77 419.37L560.39 419.38L561.01 419.38L561.64 419.39L562.26 419.39L562.88 419.40L563.50 419.40L564.13 419.40L564.75 419.41L565.37 419.41L565.99 419.42L566.62 419.42L567.24 419.42L567.86 419.43L568.48 419.43L569.10 419.44L569.73 419.44L570.35 419.44L570.97 419.45L571.59 419.45L572.22 419.45L572.84 419.46L573.46 419.46L574.08 419.46L574.71 419.47L575.33 419.47L575.95 419.47L576.57 419.48L577.20 419.48L577.82 419.48L578.44 419.49L579.06 419.49L579.69 419.49L580.31 419.50L580.93 419.50L581.55 419.50L582.17 419.51L582.80 419.51L583.42 419.51L584.04 419.52L584.66 419.52L585.29 419.52L585.91 419.53L586.53 419.53L587.15 419.53L587.78 419.53L588.40 419.54L589.02 419.54L589.64 419.54L590.27 419.55L590.89 419.55L591.51 419.55L592.13 419.55L592.76 419.56L593.38 419.56L594.00 419.56L594.62 419.57L595.25 419.57L595.87 419.57L596.49 419.57L597.11 419.58L597.73 419.58L598.36 419.58L598.98 419.58L599.60 419.59L600.22 419.59L600.85 419.59L601.47 419.59L602.09 419.60L602.71 419.60L603.34 419.60L603.96 419.60L604.58 419.60L605.20 419.61L605.83 419.61L606.45 419.61L607.07 419.61L607.69 419.62L608.32 419.62L608.94 419.62L609.56 419.62L610.18 419.62L610.80 419.63L611.43 419.63L612.05 419.63L612.67 419.63L613.29 419.64L613.92 419.64L614.54 419.64L615.16 419.64L615.78 419.64L616.41 419.65L617.03 419.65L617.65 419.65L618.27 419.65L618.90 419.65L619.52 419.66L620.14 419.66L620.76 419.66L621.39 419.66L622.01 419.66L622.63 419.66L623.25 419.67L623.87 419.67L624.50 419.67L625.12 419.67L625.74 419.67L626.36 419.68L626.99 419.68L627.61 419.68L628.23 419.68L628.85 419.68L629.48 419.68L630.10 419.69L630.72 419.69L631.34 419.69L631.97 419.69L632.59 419.69L633.21 419.69L633.83 419.70L634.46 419.70L635.08 419.70L635.70 419.70" fill="none" stroke="#1f77b4" stroke-width="1.5" stroke-linejoin="round"/>
<path d="M421.80 294.86L422.43 294.86L423.05 294.86L423.68 294.86L424.31 294.86L424.94 294.86L425.56 294.86L426.19 294.86L426.82 294.86L427.45 294.86L428.07 294.86L428.70 294.88L429.33 294.97L429.95 295.15L430.51 295.47L430.79 296.14L431.00 296.95L431.14 297.63L431.28 298.40L431.42 299.44L431.49 300.24L431.56 301.22L431.63 302.35L431.70 303.63L431.77 305.03L431.84 306.55L431.91 308.41L431.97 311.02L432.04 313.98L432.11 316.90L432.18 319.35L432.25 321.56L432.32 323.66L432.39 325.45L432.46 326.76L432.53 327.78L432.60 328.66L432.67 329.44L432.74 330.13L432.81 330.73L432.95 331.78L433.09 332.66L433.23 333.41L433.37 334.08L433.51 334.71L433.65 335.35L433.79 336.03L433.93 336.72L434.07 337.41L434.21 338.06L434.34 338.66L434.55 339.38L434.83 339.98L435.18 340.50L435.60 341.08L435.95 341.57L436.37 342.14L436.78 342.67L437.20 343.17L437.62 343.65L438.04 344.11L438.46 344.55L438.94 345.03L439.43 345.48L439.92 345.92L440.41 346.33L440.90 346.72L441.38 347.09L441.87 347.45L442.43 347.83L442.99 348.20L443.54 348.55L444.10 348.88L444.66 349.20L445.22 349.50L445.77 349.79L446.33 350.07L446.89 350.34L447.45 350.59L448.00 350.84L448.56 351.07L449.12 351.29L450.23 351.72L450.85 351.94L451.47 352.16L452.10 352.36L452.72 352.56L453.34 352.75L453.96 352.94L454.59 353.12L455.21 353.29L455.83 353.45L456.45 353.61L457.08 353.77L457.70 353.92L458.32 354.06L458.94 354.20L459.57 354.34L460.19 354.47L460.81 354.59L461.43 354.72L462.05 354.84L462.68 354.95L463.30 355.07L463.92 355.18L464.54 355.28L465.17 355.39L465.79 355.49L466.41 355.59L467.03 355.68L467.66 355.78L468.28 355.87L468.90 355.96L469.52 356.04L470.15 356.13L470.77 356.21L471.39 356.29L472.01 356.37L472.64 356.45L473.26 356.52L473.88 356.59L474.50 356.67L475.12 356.74L475.75 356.80L476.37 356.87L476.99 356.94L477.61 357.00L478.24 357.06L478.86 357.12L479.48 357.19L480.10 357.24L480.73 357.30L481.35 357.36L481.97 357.41L482.59 357.47L483.22 357.52L483.84 357.57L484.46 357.63L485.08 357.68L485.71 357.73L486.33 357.77L486.95 357.82L487.57 357.87L488.19 357.91L488.82 357.96L489.44 358.00L490.06 358.05L490.68 358.09L491.31 358.13L491.93 358.18L492.55 358.22L493.17 358.26L493.80 358.30L494.42 358.33L495.04 358.37L495.66 358.41L496.29 358.45L496.91 358.48L497.53 358.52L498.15 358.55L498.78 358.59L499.40 358.62L500.02 358.66L500.64 358.69L501.26 358.72L501.89 358.76L502.51 358.79L503.13 358.82L503.75 358.85L504.38 358.88L505.00 358.91L505.62 358.94L506.24 358.97L506.87 359.00L507.49 359.02L508.11 359.05L508.73 359.08L509.36 359.11L509.98 359.13L510.60 359.16L511.22 359.19L511.85 359.21L512.47 359.24L513.09 359.26L513.71 359.29L514.34 359.31L514.96 359.34L515.58 359.36L516.20 359.38L516.82 359.41L517.45 359.43L518.07 359.45L518.69 359.48L519.31 359.50L519.94 359.52L520.56 359.54L521.18 359.56L521.80 359.58L522.43 359.60L523.05 359.62L523.67 359.64L524.29 359.67L524.92 359.68L525.54 359.70L526.16 359.72L526.78 359.74L527.41 359.76L528.03 359.78L528.65 359.80L529.27 359.82L529.89 359.84L530.52 359.85L531.14 359.87L531.76 359.89L532.38 359.91L533.01 359.92L533.63 359.94L534.25 359.96L534.87 359.97L535.50 359.99L536.12 360.01L536.74 360.02L537.36 360.04L537.99 360.06L538.61 360.07L539.23 360.09L539.85 360.10L540.48 360.12L541.10 360.13L541.72 360.15L542.34 360.16L542.96 360.18L543.59 360.19L544.21 360.21L544.83 360.22L545.45 360.23L546.08 360.25L546.70 360.26L547.32 360.28L547.94 360.29L548.57 360.30L549.19 360.32L549.81 360.33L550.43 360.34L551.06 360.35L551.68 360.37L552.30 360.38L552.92 360.39L553.55 360.41L554.17 360.42L554.79 360.43L555.41 360.44L556.03 360.45L556.66 360.47L557.28 360.48L557.90 360.49L558.52 360.50L559.15 360.51L559.77 360.52L560.39 360.54L561.01 360.55L561.64 360.56L562.26 360.57L562.88 360.58L563.50 360.59L564.13 360.60L564.75 360.61L565.37 360.62L565.99 360.63L566.62 360.64L567.24 360.65L567.86 360.66L568.48 360.67L569.10 360.68L569.73 360.69L570.35 360.70L570.97 360.71L571.59 360.72L572.22 360.73L572.84 360.74L573.46 360.75L574.08 360.76L574.71 360.77L575.33 360.78L575.95 360.79L576.57 360.80L577.20 360.81L577.82 360.82L578.44 360.83L579.06 360.84L579.69 360.84L580.31 360.85L580.93 360.86L581.55 360.87L582.17 360.88L582.80 360.89L583.42 360.90L584.04 360.90L584.66 360.91L585.29 360.92L585.91 360.93L586.53 360.94L587.15 360.95L587.78 360.95L588.40 360.96L589.02 360.97L589.64 360.98L590.27 360.98L590.89 360.99L591.51 361.00L592.13 361.01L592.76 361.02L593.38 361.02L594.00 361.03L594.62 361.04L595.25 361.05L595.87 361.05L596.49 361.06L597.11 361.07L597.73 361.07L598.36 361.08L598.98 361.09L599.60 361.10L600.22 361.10L600.85 361.11L601.47 361.12L602.09 361.12L602.71 361.13L603.34 361.14L603.96 361.14L604.58 361.15L605.20 361.16L605.83 361.16L606.45 361.17L607.07 361.18L607.69 361.18L608.32 361.19L608.94 361.20L609.56 361.20L610.18 361.21L610.80 361.21L611.43 361.22L612.05 361.23L612.67 361.23L613.29 361.24L613.92 361.25L614.54 361.25L615.16 361.26L615.78 361.26L616.41 361.27L617.03 361.28L617.65 361.28L618.27 361.29L618.90 361.29L619.52 361.30L620.14 361.30L620.76 361.31L621.39 361.32L622.01 361.32L622.63 361.33L623.25 361.33L623.87 361.34L624.50 361.34L625.12 361.35L625.74 361.35L626.36 361.36L626.99 361.37L627.61 361.37L628.23 361.38L628.85 361.38L629.48 361.39L630.10 361.39L630.72 361.40L631.34 361.40L631.97 361.41L632.59 361.41L633.21 361.42L633.83 361.42L634.46 361.43L635.08 361.43L635.70 361.44" fill="none" stroke="#ff7f0e" stroke-width="1.5" stroke-linejoin="round"/>
<path d="M421.80 294.86L422.43 294.86L423.05 294.86L423.68 294.86L424.31 294.86L424.94 294.86L425.56 294.86L426.19 294.86L426.82 294.86L427.45 294.86L428.07 294.86L428.70 294.86L429.33 294.86L429.95 294.86L430.58 294.89L431.14 295.20L431.56 295.71L431.77 296.43L431.97 297.29L432.18 297.96L432.46 298.65L432.74 299.29L433.02 299.86L433.37 300.48L433.72 300.99L434.14 301.52L434.55 302.00L435.04 302.49L435.53 302.93L436.02 303.32L436.50 303.68L437.06 304.06L437.62 304.41L438.18 304.75L438.74 305.06L439.29 305.35L439.85 305.62L440.41 305.87L440.97 306.10L441.59 306.32L442.22 306.53L442.85 306.71L443.47 306.88L444.10 307.03L444.73 307.17L445.36 307.31L445.98 307.44L446.61 307.57L447.24 307.71L447.86 307.84L448.49 307.98L449.12 308.13L450.23 308.39L450.85 308.54L451.47 308.69L452.10 308.83L452.72 308.97L453.34 309.11L453.96 309.24L454.59 309.37L455.21 309.49L455.83 309.61L456.45 309.73L457.08 309.85L457.70 309.96L458.32 310.06L458.94 310.16L459.57 310.25L460.19 310.33L460.81 310.41L461.43 310.48L462.05 310.55L462.68 310.62L463.30 310.69L463.92 310.76L464.54 310.82L465.17 310.88L465.79 310.94L466.41 311.00L467.03 311.05L467.66 311.11L468.28 311.16L468.90 311.22L469.52 311.27L470.15 311.32L470.77 311.38L471.39 311.43L472.01 311.48L472.64 311.53L473.26 311.59L473.88 311.64L474.50 311.70L475.12 311.75L475.75 311.81L476.37 311.87L476.99 311.93L477.61 311.99L478.24 312.05L478.86 312.11L479.48 312.17L480.10 312.23L480.73 312.29L481.35 312.35L481.97 312.41L482.59 312.48L483.22 312.54L483.84 312.60L484.46 312.66L485.08 312.72L485.71 312.78L486.33 312.83L486.95 312.89L487.57 312.95L488.19 313.00L488.82 313.05L489.44 313.10L490.06 313.15L490.68 313.20L491.31 313.25L491.93 313.29L492.55 313.33L493.17 313.37L493.80 313.41L494.42 313.44L495.04 313.47L495.66 313.51L496.29 313.54L496.91 313.57L497.53 313.60L498.15 313.63L498.78 313.66L499.40 313.69L500.02 313.72L500.64 313.74L501.26 313.77L501.89 313.80L502.51 313.83L503.13 313.85L503.75 313.88L504.38 313.90L505.00 313.93L505.62 313.95L506.24 313.98L506.87 314.00L507.49 314.03L508.11 314.05L508.73 314.07L509.36 314.10L509.98 314.12L510.60 314.14L511.22 314.16L511.85 314.18L512.47 314.20L513.09 314.23L513.71 314.25L514.34 314.27L514.96 314.28L515.58 314.30L516.20 314.32L516.82 314.34L517.45 314.36L518.07 314.38L518.69 314.40L519.31 314.41L519.94 314.43L520.56 314.45L521.18 314.46L521.80 314.48L522.43 314.50L523.05 314.51L523.67 314.53L524.29 314.54L524.92 314.56L525.54 314.57L526.16 314.59L526.78 314.60L527.41 314.61L528.03 314.63L528.65 314.64L529.27 314.65L529.89 314.67L530.52 314.68L531.14 314.69L531.76 314.71L532.38 314.72L533.01 314.73L533.63 314.74L534.25 314.75L534.87 314.77L535.50 314.78L536.12 314.79L536.74 314.80L537.36 314.81L537.99 314.82L538.61 314.83L539.23 314.85L539.85 314.86L540.48 314.87L541.10 314.88L541.72 314.89L542.34 314.90L542.96 314.91L543.59 314.92L544.21 314.93L544.83 314.94L545.45 314.95L546.08 314.96L546.70 314.97L547.32 314.98L547.94 314.99L548.57 315.00L549.19 315.01L549.81 315.02L550.43 315.03L551.06 315.04L551.68 315.04L552.30 315.05L552.92 315.06L553.55 315.07L554.17 315.08L554.79 315.09L555.41 315.10L556.03 315.11L556.66 315.11L557.28 315.12L557.90 315.13L558.52 315.14L559.15 315.15L559.77 315.15L560.39 315.16L561.01 315.17L561.64 315.18L562.26 315.19L562.88 315.19L563.50 315.20L564.13 315.21L564.75 315.22L565.37 315.22L565.99 315.23L566.62 315.24L567.24 315.25L567.86 315.25L568.48 315.26L569.10 315.27L569.73 315.28L570.35 315.28L570.97 315.29L571.59 315.30L572.22 315.30L572.84 315.31L573.46 315.32L574.08 315.32L574.71 315.33L575.33 315.34L575.95 315.34L576.57 315.35L577.20 315.36L577.82 315.37L578.44 315.37L579.06 315.38L579.69 315.39L580.31 315.39L580.93 315.40L581.55 315.41L582.17 315.41L582.80 315.42L583.42 315.43L584.04 315.43L584.66 315.44L585.29 315.44L585.91 315.45L586.53 315.46L587.15 315.46L587.78 315.47L588.40 315.48L589.02 315.48L589.64 315.49L590.27 315.50L590.89 315.50L591.51 315.51L592.13 315.52L592.76 315.52L593.38 315.53L594.00 315.53L594.62 315.54L595.25 315.55L595.87 315.55L596.49 315.56L597.11 315.56L597.73 315.57L598.36 315.58L598.98 315.58L599.60 315.59L600.22 315.59L600.85 315.60L601.47 315.61L602.09 315.61L602.71 315.62L603.34 315.62L603.96 315.63L604.58 315.63L605.20 315.64L605.83 315.65L606.45 315.65L607.07 315.66L607.69 315.66L608.32 315.67L608.94 315.67L609.56 315.68L610.18 315.68L610.80 315.69L611.43 315.69L612.05 315.70L612.67 315.70L613.29 315.71L613.92 315.72L614.54 315.72L615.16 315.73L615.78 315.73L616.41 315.74L617.03 315.74L617.65 315.74L618.27 315.75L618.90 315.75L619.52 315.76L620.14 315.76L620.76 315.77L621.39 315.77L622.01 315.78L622.63 315.78L623.25 315.79L623.87 315.79L624.50 315.80L625.12 315.80L625.74 315.80L626.36 315.81L626.99 315.81L627.61 315.82L628.23 315.82L628.85 315.82L629.48 315.83L630.10 315.83L630.72 315.84L631.34 315.84L631.97 315.84L632.59 315.85L633.21 315.85L633.83 315.86L634.46 315.86L635.08 315.86L635.70 315.87" fill="none" stroke="#2ca02c" stroke-width="1.5" stroke-linejoin="round"/>
<path d="M421.80 294.86L635.70 294.86" fill="none" stroke="#d62728" stroke-width="1.5" stroke-linejoin="round"/>
<path d="M421.80 420.61L635.70 420.61" fill="none" stroke="#2b2b2b" stroke-width="1.35" stroke-dasharray="5.6 5.7" stroke-dashoffset="0"/>
<path d="M421.80 363.32L635.70 363.32" fill="none" stroke="#2b2b2b" stroke-width="1.35" stroke-dasharray="5.6 5.7" stroke-dashoffset="0"/>
<path d="M421.80 317.23L635.70 317.23" fill="none" stroke="#2b2b2b" stroke-width="1.35" stroke-dasharray="5.6 5.7" stroke-dashoffset="0"/>
<path d="M421.80 294.86L635.70 294.86" fill="none" stroke="#2b2b2b" stroke-width="1.35" stroke-dasharray="5.6 5.7" stroke-dashoffset="0"/>
<circle cx="448.68" cy="414.85" r="2.45" fill="#1f77b4"/>
<circle cx="475.56" cy="417.59" r="2.45" fill="#1f77b4"/>
<circle cx="502.44" cy="418.64" r="2.45" fill="#1f77b4"/>
<circle cx="529.32" cy="419.09" r="2.45" fill="#1f77b4"/>
<circle cx="556.20" cy="419.35" r="2.45" fill="#1f77b4"/>
<circle cx="583.08" cy="419.51" r="2.45" fill="#1f77b4"/>
<circle cx="609.96" cy="419.62" r="2.45" fill="#1f77b4"/>
<circle cx="636.84" cy="419.70" r="2.45" fill="#1f77b4"/>
<path d="M448.68 348.77l2.35 4.7h-4.7z" fill="#ff7f0e"/>
<path d="M475.56 354.43l2.35 4.7h-4.7z" fill="#ff7f0e"/>
<path d="M502.44 356.43l2.35 4.7h-4.7z" fill="#ff7f0e"/>
<path d="M529.32 357.47l2.35 4.7h-4.7z" fill="#ff7f0e"/>
<path d="M556.20 358.11l2.35 4.7h-4.7z" fill="#ff7f0e"/>
<path d="M583.08 358.54l2.35 4.7h-4.7z" fill="#ff7f0e"/>
<path d="M609.96 358.86l2.35 4.7h-4.7z" fill="#ff7f0e"/>
<path d="M636.84 359.09l2.35 4.7h-4.7z" fill="#ff7f0e"/>
<path d="M448.68 310.37l2.35 -4.7h-4.7z" fill="#2ca02c"/>
<path d="M475.56 314.14l2.35 -4.7h-4.7z" fill="#2ca02c"/>
<path d="M502.44 316.17l2.35 -4.7h-4.7z" fill="#2ca02c"/>
<path d="M529.32 317.01l2.35 -4.7h-4.7z" fill="#2ca02c"/>
<path d="M556.20 317.46l2.35 -4.7h-4.7z" fill="#2ca02c"/>
<path d="M583.08 317.77l2.35 -4.7h-4.7z" fill="#2ca02c"/>
<path d="M609.96 318.03l2.35 -4.7h-4.7z" fill="#2ca02c"/>
<path d="M636.84 318.22l2.35 -4.7h-4.7z" fill="#2ca02c"/>
<rect x="419.30" y="292.36" width="5.0" height="5.0" fill="#d62728"/>
<rect x="446.18" y="292.36" width="5.0" height="5.0" fill="#d62728"/>
<rect x="473.06" y="292.36" width="5.0" height="5.0" fill="#d62728"/>
<rect x="499.94" y="292.36" width="5.0" height="5.0" fill="#d62728"/>
<rect x="526.82" y="292.36" width="5.0" height="5.0" fill="#d62728"/>
<rect x="553.70" y="292.36" width="5.0" height="5.0" fill="#d62728"/>
<rect x="580.58" y="292.36" width="5.0" height="5.0" fill="#d62728"/>
<rect x="607.46" y="292.36" width="5.0" height="5.0" fill="#d62728"/>
<rect x="634.34" y="292.36" width="5.0" height="5.0" fill="#d62728"/>
</g>
<rect x="421.8" y="287.3" width="213.90" height="158.70" fill="none" stroke="#a0a0a0" stroke-width="1.5"/>
<path d="M421.80 446.0v2.2M464.58 446.0v2.2M507.36 446.0v2.2M550.14 446.0v2.2M592.92 446.0v2.2M635.70 446.0v2.2M421.8 446.00h-2.2M421.8 415.77h-2.2M421.8 385.54h-2.2M421.8 355.31h-2.2M421.8 325.09h-2.2M421.8 294.86h-2.2" stroke="#777" stroke-width="0.7" fill="none"/>
<g font-family='"Liberation Serif", "Noto Serif CJK JP", "Noto Serif CJK SC", serif' font-size="6.9" fill="#333" stroke="#333" stroke-width="0.22">
<text transform="translate(421.80 454.50) rotate(0.03) scale(1.08 1)" text-anchor="middle">0</text>
<text transform="translate(464.58 454.50) rotate(0.03) scale(1.08 1)" text-anchor="middle">2</text>
<text transform="translate(507.36 454.50) rotate(0.03) scale(1.08 1)" text-anchor="middle">4</text>
<text transform="translate(550.14 454.50) rotate(0.03) scale(1.08 1)" text-anchor="middle">6</text>
<text transform="translate(592.92 454.50) rotate(0.03) scale(1.08 1)" text-anchor="middle">8</text>
<text transform="translate(635.70 454.50) rotate(0.03) scale(1.08 1)" text-anchor="middle">10</text>
<text transform="translate(419.00 448.90) rotate(0.03) scale(1.08 1)" text-anchor="end">0.0</text>
<text transform="translate(419.00 418.67) rotate(0.03) scale(1.08 1)" text-anchor="end">0.2</text>
<text transform="translate(419.00 388.44) rotate(0.03) scale(1.08 1)" text-anchor="end">0.4</text>
<text transform="translate(419.00 358.21) rotate(0.03) scale(1.08 1)" text-anchor="end">0.6</text>
<text transform="translate(419.00 327.99) rotate(0.03) scale(1.08 1)" text-anchor="end">0.8</text>
<text transform="translate(419.00 297.76) rotate(0.03) scale(1.08 1)" text-anchor="end">1.0</text>
</g>
<g font-family='"Liberation Serif", "Noto Serif CJK JP", "Noto Serif CJK SC", serif' fill="#111"><text x="475.0" y="271.6" font-style="italic" font-size="17" stroke="#111" stroke-width="0.25">L</text><text x="483.5" y="276.3" font-size="12.5" font-style="italic">y</text><text x="494.1" y="272.0" font-size="16">:</text><text x="504.00" y="271.90" font-size="15.6" letter-spacing="0.7" font-weight="600">偶数の場合</text></g>
<text transform="translate(402.1 379.4) rotate(-90)" text-anchor="middle" font-family='"Liberation Serif", "Noto Serif CJK JP", "Noto Serif CJK SC", serif' font-size="15.7" letter-spacing="0.5" font-weight="600" fill="#111">対称性の破れ</text>
<text x="514.3" y="476.2" text-anchor="middle" font-family='"Liberation Serif", "Noto Serif CJK JP", "Noto Serif CJK SC", serif' font-size="15.7" letter-spacing="0.5" font-weight="600" fill="#111">時間</text>
</g>
</svg>
</body>
</html>
